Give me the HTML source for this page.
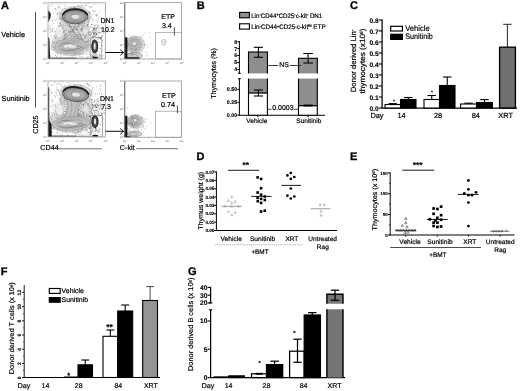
<!DOCTYPE html>
<html lang="en"><head><meta charset="utf-8"><title>Figure</title>
<style>html,body{margin:0;padding:0;background:#fff;}body{width:520px;height:391px;overflow:hidden;font-family:"Liberation Sans",sans-serif;}svg{display:block;}</style></head>
<body>
<svg width="520" height="391" viewBox="0 0 520 391" font-family="'Liberation Sans', sans-serif" shape-rendering="geometricPrecision" text-rendering="geometricPrecision">
<defs><filter id="b" x="0" y="0" width="520" height="391" filterUnits="userSpaceOnUse"><feGaussianBlur stdDeviation="0.3"/></filter><filter id="b2" x="-5%" y="-5%" width="110%" height="110%"><feGaussianBlur stdDeviation="0.3"/></filter></defs>
<rect x="0" y="0" width="520" height="391" fill="#fff"/>
<g filter="url(#b)">
<text x="1" y="9" font-size="11" text-anchor="start" font-weight="bold" fill="#000" stroke="#000" stroke-width="0.3">A</text>
<text x="196.8" y="9.3" font-size="11" text-anchor="start" font-weight="bold" fill="#000" stroke="#000" stroke-width="0.3">B</text>
<text x="350.1" y="9" font-size="11" text-anchor="start" font-weight="bold" fill="#000" stroke="#000" stroke-width="0.3">C</text>
<text x="196.6" y="160.4" font-size="11" text-anchor="start" font-weight="bold" fill="#000" stroke="#000" stroke-width="0.3">D</text>
<text x="350" y="160.4" font-size="11" text-anchor="start" font-weight="bold" fill="#000" stroke="#000" stroke-width="0.3">E</text>
<text x="0.7" y="274.5" font-size="11" text-anchor="start" font-weight="bold" fill="#000" stroke="#000" stroke-width="0.3">F</text>
<text x="187.9" y="274.7" font-size="11" text-anchor="start" font-weight="bold" fill="#000" stroke="#000" stroke-width="0.3">G</text>
<text x="1.3" y="36.7" font-size="7.35" text-anchor="start" fill="#000"  stroke="#000" stroke-width="0.2">Vehicle</text>
<text x="1.5" y="101.2" font-size="7.35" text-anchor="start" fill="#000"  stroke="#000" stroke-width="0.2">Sunitinib</text>
<line x1="35.5" y1="11.8" x2="35.5" y2="107.5" stroke="#222" stroke-width="0.8" />
<g filter="url(#b2)">
<path d="M58.88 11.64 C63.39 32.92 48.5 35.12 51.5 50.08 L89.75 52.12 C92 33.76 86.61 31.4 91.12 11.64 Z" fill="#dedede"/>
<ellipse cx="75" cy="16.2" rx="16.12" ry="10.26" fill="#d4d4d4" stroke="none" stroke-width="0" opacity="1"/>
<ellipse cx="71" cy="46" rx="19.5" ry="10.2" fill="#d4d4d4" stroke="none" stroke-width="0" opacity="1"/>
<path d="M69.86 40.56h0.6M70.33 26.64h0.6M59.42 28.35h0.6M91.06 39.09h0.6M89.9 36.14h0.6M79.95 35.07h0.6M81.68 40.35h0.6M60.04 24.06h0.6M78.56 31.17h0.6M81.9 21.13h0.6M78.61 38.59h0.6M82.46 52.11h0.6M64.22 19.49h0.6M68.5 30.16h0.6M83.63 36.13h0.6M66.9 15.83h0.6M65.76 52.51h0.6M61.31 36.07h0.6M80.44 6.85h0.6M74.58 53.95h0.6M72.19 18.18h0.6M81.54 30.9h0.6M51.13 45.89h0.6M84.2 47.88h0.6M96.16 38.05h0.6M75.68 10.06h0.6M83.37 21.64h0.6M66.81 10.64h0.6M58.83 23h0.6M51.24 35.98h0.6M96.2 41.69h0.6M79.37 19.55h0.6M56.48 48.41h0.6M90.91 34.6h0.6M77.64 39.26h0.6M98.53 42.38h0.6M81.87 41.17h0.6M49.52 53.54h0.6M88.63 40.87h0.6M70.98 49.12h0.6M82.38 29.42h0.6M78.86 42.89h0.6M75.7 51.25h0.6M63.58 24.96h0.6M89.97 32.4h0.6M60.18 47.89h0.6M96.54 24.45h0.6M52.44 29.68h0.6M71.52 26.93h0.6M95.6 14.65h0.6M93.37 10.58h0.6M61.63 42.59h0.6M91.32 46.42h0.6M79.18 34.35h0.6M76.19 41.64h0.6M71.1 36.62h0.6M82.71 31.96h0.6M85.67 41.48h0.6M67.2 25.67h0.6M73.63 47.51h0.6M68.61 38.45h0.6M56.41 36.06h0.6M80 35.97h0.6M67.15 42.98h0.6M78.2 23.15h0.6M65.24 30.27h0.6M70.33 30.89h0.6M89.46 12.26h0.6M72.8 48.01h0.6M87.1 57.06h0.6M68.55 42.45h0.6M90.7 7.56h0.6M84.42 6.81h0.6M76.56 52.07h0.6M71.52 35.17h0.6M86.18 34.33h0.6M72.46 57.78h0.6M90.08 27h0.6M88 27.47h0.6M75.88 43.82h0.6M77.27 42.71h0.6M50.16 6.52h0.6M83.36 15.72h0.6M57.92 7.18h0.6M93.46 44.52h0.6M96.66 16.15h0.6M73.85 12.74h0.6M60.03 58.23h0.6M89.14 28.95h0.6M72.34 21.79h0.6M80.02 38.85h0.6M97.05 14.76h0.6M91.44 57h0.6M96.34 28.91h0.6M62.3 49.11h0.6M75.62 34.04h0.6M95.9 27.51h0.6M78.74 21.65h0.6M73.68 45.97h0.6M75.05 54.29h0.6M72.88 49.47h0.6M63.42 46.77h0.6M54.74 31.73h0.6M70.85 31.47h0.6M64.66 35.88h0.6M101.59 32.69h0.6M82.06 48.8h0.6M70.76 10.73h0.6M65.22 50.03h0.6M89.44 45.3h0.6M73.95 45.51h0.6M76.4 12.09h0.6M49.59 21.18h0.6M88.13 22.42h0.6M59.85 18.96h0.6M50.09 29.97h0.6M55.55 38.08h0.6M85.06 27.31h0.6M78.34 24.22h0.6M85.92 44.54h0.6M84.16 37.45h0.6M94.5 43.06h0.6M87.72 54.01h0.6M69.23 24.04h0.6M59.45 43.56h0.6M103.07 29.92h0.6M82.53 47.15h0.6M59.79 30.45h0.6M78.37 45.85h0.6M73.29 28.66h0.6M58.08 25.9h0.6M87.65 33.66h0.6M60.61 17.77h0.6M83.46 40.05h0.6M99.93 39.15h0.6M72.78 40.75h0.6M78.87 20.12h0.6M52.1 20.72h0.6M78.34 35.04h0.6M67.65 15.54h0.6M55.32 9.29h0.6M100.23 48.61h0.6M102.05 45.59h0.6M60.31 36.34h0.6M72.92 40.75h0.6M62.55 29.86h0.6M80.94 38.29h0.6M83.72 35.47h0.6M68.81 45.24h0.6M74.59 18.03h0.6M64.13 31.94h0.6M72.13 34.59h0.6M73.82 34.91h0.6M71.75 10.75h0.6M80.36 49.7h0.6M80.57 28.76h0.6M80.75 15.68h0.6M59.41 44.41h0.6M67.91 8.88h0.6M62 40.72h0.6M81.53 34.92h0.6M96.83 43.85h0.6M73.5 42h0.6M99.47 48.31h0.6M89.7 13.71h0.6M71.53 44.24h0.6M69.24 49.95h0.6M83.07 47.25h0.6M93.05 28.32h0.6M68.51 46.67h0.6M89.03 32.06h0.6M55.74 35.11h0.6M79.4 50.98h0.6M85.96 32.36h0.6M87.06 41.04h0.6M77.02 32.88h0.6M70.06 43.51h0.6M57.49 21.36h0.6M73.91 7.29h0.6M63.25 41.52h0.6M82.61 31.03h0.6M70.23 8.08h0.6M102.16 40.64h0.6M90.78 17.09h0.6M85.93 47.7h0.6M64.08 8.32h0.6M74.32 36.15h0.6M83.66 43.77h0.6M97.12 51.56h0.6M53.5 23.43h0.6M57.4 13.81h0.6M72.57 32.04h0.6M81.43 5.22h0.6M54.65 31.56h0.6M70.74 26.7h0.6M72.85 19.15h0.6M84.7 37.92h0.6M72.47 20.63h0.6M58.62 32.58h0.6M50.52 35.31h0.6M76.12 8.74h0.6M69.95 26.66h0.6M80.96 42.26h0.6M73.27 17.61h0.6M71.59 30.85h0.6M85.21 36.91h0.6M62.63 9.13h0.6M68.05 19.48h0.6M56.6 30h0.6M66.22 33.72h0.6M81.94 24.99h0.6M90.9 34h0.6M62.18 36.11h0.6M78.83 53.51h0.6M85.71 47.91h0.6M81.73 29.32h0.6M81.72 13.79h0.6M92.14 14.81h0.6M70.37 32.28h0.6M91.85 32.39h0.6M61.31 36.3h0.6M82.85 43.91h0.6M99.66 32.26h0.6M77.99 24.73h0.6M95.75 20.07h0.6M84.28 23.87h0.6M63.07 44.05h0.6M94.5 31.78h0.6M63.33 45.62h0.6M73.06 37.18h0.6M97.43 51.01h0.6M73.88 45.19h0.6M63.8 31.2h0.6M95 11.48h0.6M50.5 4.64h0.6M92.05 24.21h0.6M72.89 26.68h0.6M71.95 13.62h0.6M74.2 7.72h0.6M72.72 37.15h0.6M81.08 28.04h0.6M59.82 34.64h0.6M66.32 58.32h0.6M85.73 30.01h0.6M66.53 20.11h0.6M59.3 26h0.6M78.4 40.63h0.6M62.91 32.17h0.6M65.75 34.8h0.6M76.22 38.82h0.6M70.13 38.12h0.6M74.65 44.94h0.6M73.8 14.57h0.6M57.64 42.52h0.6M63.76 42.64h0.6M85.39 37.11h0.6M81.7 30.19h0.6M51.99 31.44h0.6M80.87 23.03h0.6M72.29 44.57h0.6M60.22 42.73h0.6M102.7 22.61h0.6M76.1 29.41h0.6M97.7 37.28h0.6M87.74 20.32h0.6M73.58 31.78h0.6M85.37 29.74h0.6M80.78 38.12h0.6M50.6 28.38h0.6M96.96 22.26h0.6M57.98 9.05h0.6M54.91 37.6h0.6M100.06 39.18h0.6M65.78 20.59h0.6M82.02 41.19h0.6M58.1 12.24h0.6M78.34 36.12h0.6M53.58 28.54h0.6M65.42 39.7h0.6M72.02 30.5h0.6M68.35 49.7h0.6M95.38 25.77h0.6M86.94 19.19h0.6M74.95 44.58h0.6M97.3 25.5h0.6M72.68 35.26h0.6M50.61 32.22h0.6M63.36 38.21h0.6M74.42 36.34h0.6M65.32 46.92h0.6M69.6 21.75h0.6M81.23 5.53h0.6M63.33 31.6h0.6M86.99 29.21h0.6M78.61 20.91h0.6M63.85 32.24h0.6M76.52 49.2h0.6M83.22 45.35h0.6M77.01 36.22h0.6M88.23 38.16h0.6M99.61 11.09h0.6M86.42 25.68h0.6M73.74 27.66h0.6M66.09 17.83h0.6M64.06 42.72h0.6M74.4 33.06h0.6M71.14 47.35h0.6M81.49 29.56h0.6M84.13 29.39h0.6M55.96 56.46h0.6M81.04 15.82h0.6M90.55 37.76h0.6M79 46.96h0.6M76.9 29.43h0.6M49.84 48.31h0.6M74.3 27.12h0.6M79.27 33.26h0.6M84.3 25.7h0.6M67.27 43.33h0.6M94.55 25.82h0.6M68.78 44.31h0.6M99.84 32.62h0.6M92.84 19.98h0.6M77.05 30.64h0.6M75.61 50.98h0.6M64.92 40.33h0.6M57.48 40.32h0.6M82.69 27.27h0.6M82.06 5.85h0.6M85.61 5.93h0.6M63.04 22.58h0.6M67.61 46.41h0.6M75.1 25.25h0.6M73.93 38.11h0.6M93.04 36.46h0.6M73.22 38.98h0.6M88.8 43.22h0.6M69.61 14.2h0.6M75.43 49.36h0.6M56.94 14.64h0.6M69.8 24.59h0.6M80.82 20.13h0.6M60.16 25.31h0.6M73.06 20.75h0.6M74.02 44.59h0.6M61.69 24.88h0.6M62.6 31.39h0.6M81.93 9.06h0.6M81.02 31.5h0.6M86.34 35.47h0.6M81.19 39.39h0.6M94.04 28.18h0.6M87.37 25.04h0.6M85.11 18.24h0.6M80.74 29.28h0.6M56.09 18.64h0.6M76.83 47.77h0.6M80.43 40.78h0.6M73.18 54.72h0.6M67.77 22.69h0.6M87.59 33.02h0.6M69.51 22.24h0.6M69.85 42.45h0.6M79.31 11.57h0.6M80.44 34.96h0.6M58.33 44.97h0.6M69.48 26.3h0.6M86.16 54.2h0.6M63.16 39.33h0.6M66.18 52.08h0.6M63.8 45.61h0.6M67.1 40.38h0.6M72.39 20.69h0.6M64.88 34.39h0.6M93.37 33.93h0.6M52.27 3.38h0.6M92.16 44.42h0.6M61.19 46.43h0.6M81.53 42.86h0.6M87.78 44.3h0.6M76.45 40.24h0.6M68.73 32.55h0.6M87.56 24.48h0.6M91.61 18.68h0.6M77.97 23.06h0.6M76.28 20.31h0.6M49.08 50.36h0.6M78.53 22.54h0.6M76.94 48.63h0.6M58.68 30.09h0.6M82.19 40.81h0.6M93.09 37.48h0.6M74.03 27.26h0.6M77.91 24.78h0.6M57.95 19.49h0.6M64.58 21.63h0.6M55.87 42.67h0.6M53.53 43.06h0.6M58.1 37.89h0.6M95.13 35.37h0.6M62.5 32.76h0.6M64.41 34.69h0.6M66.56 33.29h0.6M85.21 44.86h0.6M87.87 41.86h0.6M69.37 31.64h0.6M69.63 26.67h0.6M68.67 31.54h0.6M58.74 31.54h0.6M81.82 29.18h0.6M81.87 26.85h0.6M87.03 38.21h0.6M74.18 22.05h0.6M83.72 23.77h0.6M77.29 23.36h0.6M76.96 44.66h0.6M60.25 31.39h0.6M83.39 34.4h0.6M87.11 57.71h0.6M88.12 45.66h0.6M64.24 19.93h0.6M87.6 16.59h0.6M63.19 19.67h0.6M77.42 19.32h0.6M94.13 30.63h0.6M56.99 54h0.6M64.79 35.68h0.6M73.63 26.65h0.6M78.87 20.28h0.6M54.2 19.17h0.6M73.47 32.88h0.6M82.45 33.97h0.6M61.53 20.01h0.6M81.34 40.87h0.6M71.95 29.01h0.6M88.34 32.21h0.6M85.26 41.76h0.6M77.13 53.95h0.6M64.95 25.9h0.6M61.31 18.52h0.6M74.18 41.52h0.6M92.05 45.55h0.6M92.51 10.67h0.6M63.92 39.57h0.6M96.07 33.7h0.6M60.53 25.98h0.6M63.59 17.49h0.6M97.1 21.41h0.6M92.19 37.61h0.6M64.35 38.86h0.6M98.96 42.44h0.6M93.38 33.6h0.6M81.83 28.56h0.6M80.45 53.85h0.6M51.65 30.89h0.6M77.55 22.33h0.6M69.06 45.2h0.6M104.85 42.55h0.6M78.88 5.81h0.6M103.7 33.24h0.6M73.31 13.11h0.6M72.95 13.48h0.6M74.93 39.8h0.6M74.31 36.66h0.6M60.63 56.03h0.6M70.92 19.08h0.6M58.18 25.97h0.6M78.34 12.04h0.6M71.7 55.98h0.6M84.41 29.39h0.6M75.81 29.93h0.6M73.09 44.28h0.6M73.5 16.96h0.6M83.92 21.67h0.6M57.61 13h0.6M50.85 42.35h0.6M61.81 25.77h0.6M78.95 54.8h0.6M103.91 49.34h0.6M76.06 35.05h0.6M101.76 56.01h0.6M69.02 39.66h0.6M78.28 32.83h0.6M66.08 9.6h0.6M65.55 5.94h0.6M92.8 40.99h0.6M55.14 55.46h0.6M102.37 45.59h0.6M82.05 39.07h0.6M76.96 34.83h0.6M90.15 6.77h0.6M54.58 8.46h0.6M65.19 21.75h0.6M79.52 36.44h0.6M74.32 20.55h0.6M66.98 47.99h0.6M85.66 33.65h0.6M68.83 58.11h0.6M64.62 42.87h0.6M91.71 27.48h0.6M86.62 13.15h0.6M89.52 35.31h0.6M49.24 43.23h0.6M60 53.54h0.6M63.31 29.17h0.6M78.22 26.35h0.6M77.85 22.63h0.6M84.24 32.04h0.6M91.83 32.48h0.6M81.07 49.98h0.6M57.05 58.01h0.6M71.56 43.4h0.6M68.15 13.15h0.6M90.83 47.22h0.6M97.67 46.38h0.6M64.95 3.94h0.6M63.75 20.58h0.6M61.2 41.76h0.6M78.91 27.4h0.6M76.5 29.49h0.6M77.13 44.62h0.6M88.7 20.39h0.6M50.48 55.99h0.6M75.6 50.57h0.6M74.25 7.67h0.6M65.83 44.15h0.6M60.45 8.34h0.6M81.9 47.79h0.6M76.82 10.02h0.6M85.95 45.3h0.6M82.41 23.74h0.6M78.54 45.27h0.6M78.92 40.05h0.6M74.04 46.93h0.6M64.74 30.56h0.6M69.1 41.57h0.6M98.56 27.72h0.6M86.08 41.84h0.6M101.27 28.91h0.6M72.09 14.05h0.6M81.16 54.6h0.6M82.08 39.07h0.6M70.72 34.8h0.6M51.74 49.62h0.6M67.48 13.34h0.6M62.18 18.06h0.6M87.09 49.77h0.6M52.79 47.55h0.6M87.59 22.19h0.6M50.79 19.39h0.6M64.01 37.72h0.6M77.45 6.1h0.6M87.86 11.62h0.6M63.09 17.56h0.6M65.42 53.81h0.6M87.03 42.08h0.6M78.78 5.88h0.6M65.76 22.65h0.6M58.68 40.52h0.6M62.34 19.99h0.6M83.06 54.37h0.6M76.54 15.5h0.6M92.68 36.95h0.6M88.2 56.85h0.6M91.29 24.51h0.6M90.14 45.01h0.6M50.01 25.12h0.6M51.76 30.11h0.6M82.79 13.96h0.6M79.67 56.73h0.6M53.32 49.81h0.6M70.57 36.48h0.6M71.44 48.77h0.6M89.91 33.41h0.6M52.77 44.43h0.6M66.55 42.54h0.6M91.46 24.35h0.6M65.5 39.25h0.6M92.28 53.12h0.6M81.87 9.71h0.6M54.29 36.12h0.6M60.48 51.11h0.6M85.77 3.79h0.6M61.15 34.75h0.6M66.18 29.35h0.6M81.12 18.31h0.6M81.06 21.23h0.6M65.39 40.99h0.6M64.94 36.79h0.6M98.62 32.4h0.6M71.57 44.33h0.6M68.16 50.19h0.6M53.95 42.37h0.6M65.89 18.49h0.6M101.26 17.63h0.6M101.06 43.04h0.6M96.35 15.49h0.6M92.41 56.49h0.6M72.03 29.77h0.6M67.28 21.34h0.6M80.74 37.51h0.6M68.75 39.92h0.6M96.45 15.04h0.6M52.83 13.46h0.6M81.56 56.43h0.6M48.8 26.62h0.6M62.4 27.47h0.6M74.67 41.13h0.6M68.46 32.2h0.6M65.36 33.88h0.6M55.66 33.02h0.6M103.51 33.29h0.6M54.3 36.28h0.6M58.76 4.13h0.6M62.42 44.36h0.6M79.78 30.31h0.6M59.47 13.78h0.6M94.75 36.07h0.6M56.02 30.65h0.6M77.09 29.29h0.6M69.52 8.82h0.6M62.11 46.19h0.6M77.88 49.41h0.6M56.43 41.98h0.6M79.81 19.52h0.6M81.23 16.82h0.6M61.49 31.63h0.6M58.33 7.31h0.6M67.24 44.8h0.6M67.56 53.27h0.6M55.86 9.84h0.6M97.87 38.67h0.6M88.48 18.02h0.6M86.3 36.32h0.6M83.88 32.37h0.6M92.53 21.01h0.6M58.89 7.06h0.6M91.82 19.51h0.6M57.66 16.12h0.6M66.93 10.53h0.6M69.33 21.38h0.6M65.29 15.79h0.6M74.4 24.18h0.6M75.61 36.15h0.6M65.53 18.54h0.6M85.83 5.37h0.6M62.76 27h0.6M68.62 48.65h0.6M66.97 48.2h0.6M92.73 39.29h0.6" stroke="#222" stroke-width="0.6" stroke-opacity="0.8" fill="none"/>
<path d="M87.9 33.59h0.56M87.82 3.52h0.56M98.48 18.87h0.56M99.33 32.8h0.56M102.59 27.75h0.56M67.62 36.27h0.56M66.94 18.59h0.56M79.05 34.07h0.56M79.7 33.91h0.56M73.43 14.4h0.56M75.17 16.43h0.56M75.48 21.48h0.56M51.77 5.3h0.56M75.99 27.5h0.56M80.54 22.48h0.56M68.67 31.5h0.56M56.48 52.55h0.56M55.12 55.3h0.56M60.32 13.82h0.56M59.26 23.21h0.56M61.26 57.49h0.56M60.83 19.37h0.56M51.77 54.7h0.56M83.32 13.68h0.56M94.64 31.01h0.56M49.73 44.79h0.56M60.18 22.98h0.56M71.17 38.6h0.56M91.95 24h0.56M49.66 9.79h0.56M61.45 34.13h0.56M83.29 6.75h0.56M79.02 14.63h0.56M97.63 12.79h0.56M82.3 44.44h0.56M57.43 52.81h0.56M54.03 46.41h0.56M80.81 36.29h0.56M98.92 30.43h0.56M102.24 50.49h0.56M79.81 18.1h0.56M59.4 18.98h0.56M72.05 30.27h0.56M94.36 11.5h0.56M60.39 23.66h0.56M81.11 7.56h0.56M76.54 37.06h0.56M81.09 44.34h0.56M83.13 34.47h0.56M83.76 26.44h0.56M57.84 17.76h0.56M65.61 11.17h0.56M63.86 35.05h0.56M77.84 37.03h0.56M75.91 51.73h0.56M80.41 24.87h0.56M88.76 35.14h0.56M68.12 13.86h0.56M92.72 43.05h0.56M76.18 42.38h0.56M62.84 32.42h0.56M77.62 43.28h0.56M75.09 27.61h0.56M73.61 16.34h0.56M92.66 49.65h0.56M94.39 4.38h0.56M56.71 36.86h0.56M88.29 7.88h0.56M67.87 21.84h0.56M78.09 38.38h0.56M74.27 53.84h0.56M86.9 45.64h0.56M87.75 13.68h0.56M89.88 53.52h0.56M68.93 17.35h0.56M58.03 33.43h0.56M75.95 45.88h0.56M92.22 41.51h0.56M82.98 26.13h0.56M73.88 12.31h0.56M80.79 30.28h0.56M84.05 11.62h0.56M77.61 31.9h0.56M90.57 6.94h0.56M86.33 52.91h0.56M90.41 22.55h0.56M65.42 25.52h0.56M73.07 16.39h0.56M85.33 35.41h0.56M55.85 14.26h0.56M74.37 45.91h0.56M49.31 7.96h0.56M88.16 3.32h0.56M79.2 38.74h0.56M74.15 7.96h0.56M75.33 23.36h0.56M84.42 11.98h0.56M72.65 31h0.56M98.78 17.16h0.56M89.23 18.1h0.56M67.49 40.77h0.56M55.41 52.68h0.56M104.5 31.62h0.56M50.64 39.86h0.56M103.08 55.3h0.56M48.55 56.24h0.56M102.42 23.35h0.56M48.56 28.52h0.56M72.13 29.76h0.56M92.7 27.58h0.56M81.1 40.35h0.56M86.86 32.73h0.56M71.93 16.78h0.56M51.93 18.19h0.56M73.56 20.82h0.56M101.6 4.73h0.56M88 34.05h0.56M49.66 31.89h0.56M74.53 42.09h0.56M66.36 37.64h0.56M94.72 54.22h0.56M76.4 17.37h0.56M58.34 45.92h0.56M91.68 7.64h0.56M80.21 10.7h0.56M77.95 51.08h0.56M102.86 39.78h0.56M76.81 54.35h0.56M62.01 14.99h0.56M68.16 29.19h0.56M51.85 41.7h0.56M89.17 32.43h0.56M81.25 26.89h0.56M65.33 17.11h0.56M68.72 14.66h0.56M64.08 19.05h0.56M52.41 27.78h0.56M94.71 25.21h0.56M99.13 51.53h0.56M103.23 23.48h0.56M73.73 55.83h0.56M63.98 28.14h0.56M85.37 39.2h0.56M70.35 52.91h0.56M72.61 47.12h0.56M101.28 45.63h0.56M93.54 4.78h0.56M48.63 37.71h0.56M57.09 14.38h0.56M70.35 46.36h0.56M81.59 57.32h0.56M54.07 50.8h0.56M98.05 32.39h0.56M87.66 18.17h0.56M51.67 21.72h0.56M81.34 37.84h0.56M93.77 13.33h0.56M97.74 39.28h0.56M89.39 40.99h0.56M88.45 47.63h0.56M56.03 57.77h0.56M88.69 6.37h0.56M78.29 5.37h0.56M87 24.84h0.56M78.17 29.31h0.56M55.21 20.62h0.56M59.18 17.12h0.56M52.43 38.17h0.56M73.48 12.39h0.56M54.1 48.96h0.56M61.56 43.97h0.56M51.82 30.89h0.56M84.55 48.34h0.56M95.12 54.05h0.56M68.12 26.1h0.56M94.51 21.27h0.56M91.7 26.93h0.56M83.84 31.3h0.56M51.98 20.37h0.56M49.16 27.86h0.56M67.67 10.33h0.56M57.37 54.36h0.56M64.21 6.28h0.56M94.78 43.5h0.56M52.76 47.64h0.56M102.56 25.08h0.56M97.75 30.32h0.56M86.3 48.09h0.56M65.62 29.97h0.56M104.4 9.68h0.56M95.01 15.65h0.56M87.24 46.29h0.56M49.55 28.88h0.56M82.22 44.02h0.56M55.35 8.55h0.56M72.28 25.83h0.56M96.26 31.3h0.56M93.39 5.85h0.56M69.22 17.89h0.56M55.61 20.4h0.56" stroke="#333" stroke-width="0.56" stroke-opacity="0.6" fill="none"/>
<path d="M96.18 33.8h0.6M94.8 29.85h0.6M96.43 33.6h0.6M88.25 30.8h0.6M89.89 26.66h0.6M95.21 32.25h0.6M95.1 28.04h0.6M94 27.87h0.6M96.04 35.08h0.6M100.84 37.68h0.6M91.88 29.92h0.6M91.42 33.36h0.6M101.63 35.17h0.6M87 26.32h0.6M90.18 34.3h0.6M94.7 33.33h0.6M100.94 28.26h0.6M91.73 40.83h0.6M95.9 28.47h0.6M87.6 25.12h0.6M86.14 32.29h0.6M94.85 36.45h0.6M94.21 28.86h0.6M92.11 40.54h0.6M88.52 32.76h0.6M94.79 34.76h0.6M93.28 34.23h0.6M97.55 31.32h0.6M93.1 31.14h0.6M91.32 31.05h0.6M93.64 32.93h0.6M99.38 37.86h0.6M93.14 34.69h0.6M95.73 35.41h0.6M94.78 33.18h0.6M93.06 28.45h0.6M97.75 37.82h0.6M97.02 33.94h0.6M95.63 29.95h0.6M88.46 34.97h0.6M95.4 29.49h0.6M91.32 37.73h0.6M88.39 39.91h0.6M96.94 42.65h0.6M92.19 31.88h0.6M92.93 32.68h0.6M93.97 28.61h0.6M98.46 28.45h0.6M92.92 34.48h0.6M92.82 30.02h0.6M95.95 30.32h0.6M90.34 31.52h0.6M93.93 39.65h0.6M90.86 36.34h0.6M91.95 30.38h0.6M93.56 33.2h0.6M97.72 39.85h0.6M92.47 37.96h0.6M98.18 35.64h0.6M92.04 36.03h0.6M94.32 33.57h0.6M93.76 34.97h0.6M98.6 37.07h0.6M93.98 36.46h0.6M99.78 27.77h0.6M99.85 25.97h0.6M96.6 34.65h0.6M99.89 33.23h0.6M93.02 28.39h0.6M90.32 35.43h0.6M93.87 28.75h0.6M96.56 28.54h0.6M93.17 29.92h0.6M100.49 38.56h0.6M94.15 24.91h0.6M95.67 32.3h0.6M95.92 34.52h0.6M93.58 36.14h0.6M97.63 32.93h0.6M93.28 29.82h0.6M97.12 27.03h0.6M94.14 28.61h0.6M89.82 34.7h0.6M94.61 32.14h0.6M97.76 25.26h0.6M94.47 33.28h0.6M97.61 27.1h0.6M97.21 32.97h0.6M99.45 37.1h0.6M96.62 41.65h0.6" stroke="#222" stroke-width="0.6" stroke-opacity="0.8" fill="none"/>
<path d="M62.83 18.48 Q72.4 31.1 81.05 43.28" fill="none" stroke="#8a8a8a" stroke-width="0.45"/>
<path d="M84.77 18.48 Q72.4 31.1 58.55 43.28" fill="none" stroke="#8a8a8a" stroke-width="0.45"/>
<path d="M64.03 18.48 Q73 31.1 82.25 43.28" fill="none" stroke="#8a8a8a" stroke-width="0.45"/>
<path d="M85.97 18.48 Q73 31.1 59.75 43.28" fill="none" stroke="#8a8a8a" stroke-width="0.45"/>
<path d="M65.23 18.48 Q73.6 31.1 83.45 43.28" fill="none" stroke="#8a8a8a" stroke-width="0.45"/>
<path d="M87.17 18.48 Q73.6 31.1 60.95 43.28" fill="none" stroke="#8a8a8a" stroke-width="0.45"/>
<ellipse cx="59.45" cy="32.1" rx="3.87" ry="5.96" fill="#f0f0f0" stroke="#aaa" stroke-width="0.35" opacity="0.85"/>
<ellipse cx="85.25" cy="31.6" rx="3.1" ry="3.58" fill="#ececec" stroke="#aaa" stroke-width="0.35" opacity="0.8"/>
<g transform="rotate(0 75 16.2)">
<ellipse cx="75" cy="16.2" rx="12.9" ry="7.6" fill="#a2a2a2" stroke="#555" stroke-width="0.9" opacity="1"/>
<ellipse cx="75" cy="16.6" rx="9.29" ry="5.17" fill="#bcbcbc" stroke="none" stroke-width="0" opacity="1"/>
<ellipse cx="75" cy="16.7" rx="11.09" ry="6.23" fill="none" stroke="#6a6a6a" stroke-width="0.5" opacity="1"/>
<ellipse cx="75" cy="16.7" rx="8.88" ry="4.99" fill="none" stroke="#6a6a6a" stroke-width="0.5" opacity="1"/>
<ellipse cx="75" cy="16.7" rx="6.66" ry="3.74" fill="none" stroke="#6a6a6a" stroke-width="0.5" opacity="1"/>
<ellipse cx="75" cy="16.7" rx="4.44" ry="2.49" fill="none" stroke="#6a6a6a" stroke-width="0.5" opacity="1"/>
<ellipse cx="75.5" cy="16.8" rx="3.87" ry="2.13" fill="#e4e4e4" stroke="none" stroke-width="0" opacity="1"/>
<path d="M62.75 14.68 A12.9 7.6 0 0 1 87.25 14.68" fill="none" stroke="#1a1a1a" stroke-width="1.7" stroke-linecap="round"/>
</g>
<ellipse cx="71" cy="46" rx="16.2" ry="7.48" fill="#c3c3c3" stroke="#8a8a8a" stroke-width="0.5" opacity="1" transform="rotate(-4 71 46)"/>
<ellipse cx="71.36" cy="45.94" rx="13.5" ry="5.78" fill="none" stroke="#8c8c8c" stroke-width="0.45" opacity="1" transform="rotate(-4 71.36 45.94)"/>
<ellipse cx="71.34" cy="46.15" rx="10.57" ry="4.53" fill="none" stroke="#8c8c8c" stroke-width="0.45" opacity="1" transform="rotate(-4 71.34 46.15)"/>
<ellipse cx="71.19" cy="46.26" rx="7.65" ry="3.28" fill="none" stroke="#8c8c8c" stroke-width="0.45" opacity="1" transform="rotate(-4 71.19 46.26)"/>
<ellipse cx="71.1" cy="45.96" rx="4.72" ry="2.02" fill="none" stroke="#8c8c8c" stroke-width="0.45" opacity="1" transform="rotate(-4 71.1 45.96)"/>
<ellipse cx="72" cy="45.7" rx="5.1" ry="2.04" fill="#e9e9e9" stroke="none" stroke-width="0" opacity="1"/>
<ellipse cx="65.75" cy="46.4" rx="1.8" ry="1.36" fill="#e9e9e9" stroke="none" stroke-width="0" opacity="1"/>
<path d="M59 46.5 q4.5 -5.1 10.5 -3.06 t10.5 3.4 t3.75 1.36" fill="none" stroke="#5f5f5f" stroke-width="0.5"/>
<path d="M60.5 49.06 q6 3.4 12 1.02 t9 -0.68" fill="none" stroke="#666" stroke-width="0.5"/>
<ellipse cx="94.7" cy="46.5" rx="2.9" ry="6.6" fill="#4a4a4a" stroke="#111" stroke-width="0.9" opacity="1"/>
<ellipse cx="94.7" cy="46.3" rx="1.04" ry="3.43" fill="#e4e4e4" stroke="none" stroke-width="0" opacity="1"/>
<ellipse cx="95" cy="57.9" rx="2.9" ry="1.2" fill="#111" stroke="none" stroke-width="0" opacity="1"/>
<path d="M99.78 56.78h0.6M90.95 56.78h0.6M96.34 55.28h0.6M94.78 55.14h0.6M92.86 52.28h0.6M94.39 58.25h0.6M99.57 55.2h0.6M92.16 55.33h0.6M97.75 56.43h0.6M92.72 56.45h0.6M94 56.75h0.6M93.32 52.87h0.6M94.9 57.22h0.6M90.94 55.53h0.6M97.68 55.01h0.6M97.51 57.74h0.6M89.08 54.73h0.6M97.21 58.33h0.6M91.55 54.45h0.6M95.37 51.99h0.6M96.86 56.83h0.6M93.19 56.79h0.6M97.33 56.34h0.6M93.09 56.05h0.6M92.93 57.75h0.6M93.32 56.66h0.6M95.16 55.87h0.6M100.49 55.58h0.6M99.48 57.34h0.6M99.15 55.42h0.6M97.83 57.2h0.6M92.63 56.26h0.6M94.27 55.67h0.6M99.08 54.35h0.6M89.04 52.37h0.6M93.18 54.49h0.6M94.75 56.83h0.6M100.62 56.34h0.6M96.26 54.32h0.6M96.65 58.36h0.6" stroke="#222" stroke-width="0.6" stroke-opacity="0.8" fill="none"/>
<path d="M48 10.05 q5.5 5.05 0.5 11.23 L48 21.84Z" fill="#1a1a1a"/>
<path d="M48 36.44 L49.4 38.69 L50.2 58.9 L48 58.9Z" fill="#1a1a1a"/>
<line x1="50" y1="58.2" x2="76.7" y2="58.2" stroke="#222" stroke-width="1.1" />
<line x1="76.7" y1="58.3" x2="91.05" y2="58.3" stroke="#666" stroke-width="0.9" />
</g>
<rect x="90.8" y="37.8" width="11" height="21.1" fill="none" stroke="#777" stroke-width="0.6" />
<rect x="48" y="2.75" width="57.4" height="56.15" fill="none" stroke="#a8a8a8" stroke-width="0.9" />
<text x="43.1" y="59.9" font-size="2.7" text-anchor="start" fill="#555" >10<tspan dy="-0.45em" font-size="70%">0</tspan><tspan dy="0.315em">&#8203;</tspan></text>
<text x="46" y="64.1" font-size="2.7" text-anchor="start" fill="#555" >10<tspan dy="-0.45em" font-size="70%">0</tspan><tspan dy="0.315em">&#8203;</tspan></text>
<text x="43.1" y="45.86" font-size="2.7" text-anchor="start" fill="#555" >10<tspan dy="-0.45em" font-size="70%">1</tspan><tspan dy="0.315em">&#8203;</tspan></text>
<text x="60.35" y="64.1" font-size="2.7" text-anchor="start" fill="#555" >10<tspan dy="-0.45em" font-size="70%">1</tspan><tspan dy="0.315em">&#8203;</tspan></text>
<text x="43.1" y="31.82" font-size="2.7" text-anchor="start" fill="#555" >10<tspan dy="-0.45em" font-size="70%">2</tspan><tspan dy="0.315em">&#8203;</tspan></text>
<text x="74.7" y="64.1" font-size="2.7" text-anchor="start" fill="#555" >10<tspan dy="-0.45em" font-size="70%">2</tspan><tspan dy="0.315em">&#8203;</tspan></text>
<text x="43.1" y="17.79" font-size="2.7" text-anchor="start" fill="#555" >10<tspan dy="-0.45em" font-size="70%">3</tspan><tspan dy="0.315em">&#8203;</tspan></text>
<text x="89.05" y="64.1" font-size="2.7" text-anchor="start" fill="#555" >10<tspan dy="-0.45em" font-size="70%">3</tspan><tspan dy="0.315em">&#8203;</tspan></text>
<text x="43.1" y="3.75" font-size="2.7" text-anchor="start" fill="#555" >10<tspan dy="-0.45em" font-size="70%">4</tspan><tspan dy="0.315em">&#8203;</tspan></text>
<text x="103.4" y="64.1" font-size="2.7" text-anchor="start" fill="#555" >10<tspan dy="-0.45em" font-size="70%">4</tspan><tspan dy="0.315em">&#8203;</tspan></text>
<g filter="url(#b2)">
<ellipse cx="135.3" cy="44.8" rx="9.5" ry="8.8" fill="#e2e2e2" stroke="#9a9a9a" stroke-width="0.4" opacity="1"/>
<ellipse cx="134.16" cy="44.5" rx="8.17" ry="7.92" fill="#cfcfcf" stroke="#8a8a8a" stroke-width="0.45" opacity="1"/>
<ellipse cx="133.98" cy="44.38" rx="6.65" ry="6.16" fill="none" stroke="#858585" stroke-width="0.45" opacity="1"/>
<ellipse cx="133.9" cy="44.18" rx="5.32" ry="4.93" fill="none" stroke="#858585" stroke-width="0.45" opacity="1"/>
<ellipse cx="133.81" cy="43.99" rx="3.99" ry="3.7" fill="none" stroke="#858585" stroke-width="0.45" opacity="1"/>
<ellipse cx="133.74" cy="43.82" rx="2.85" ry="2.64" fill="none" stroke="#858585" stroke-width="0.45" opacity="1"/>
<ellipse cx="134.9" cy="43.6" rx="1.9" ry="1.76" fill="#fff" stroke="#777" stroke-width="0.3" opacity="1"/>
<ellipse cx="134.3" cy="55.6" rx="8.07" ry="2.8" fill="#d4d4d4" stroke="#555" stroke-width="0.45" opacity="1"/>
<ellipse cx="133.3" cy="56" rx="4.75" ry="1.6" fill="none" stroke="#555" stroke-width="0.4" opacity="1"/>
<path d="M145.13 33.53h0.6M141.83 57.55h0.6M141.36 36.65h0.6M133.05 50.79h0.6M138.34 41.3h0.6M128.78 53.35h0.6M125.53 56.52h0.6M135.45 48.84h0.6M125.54 42.76h0.6M140.34 36.83h0.6M150.45 37.29h0.6M126.36 47.09h0.6M138.82 51.77h0.6M132.59 45.4h0.6M133.57 42.91h0.6M137.13 47.87h0.6M130.71 48.5h0.6M135.2 46.28h0.6M143.37 35.15h0.6M137.14 39.59h0.6M132.98 56.94h0.6M127.39 46.12h0.6M130.98 53.22h0.6M128.15 35.42h0.6M139.05 44.41h0.6M132.97 54.11h0.6M128.82 44.27h0.6M136.38 49.6h0.6M131.53 53.8h0.6M151.66 44.04h0.6M148.95 32.54h0.6M145.57 44.47h0.6M136.3 44.5h0.6M130.66 38.16h0.6M132.42 55.56h0.6M143.62 44.45h0.6M131.45 42.05h0.6M140.14 47.59h0.6M131.71 39.89h0.6M144.91 52.08h0.6M128.35 53.49h0.6M127.22 51.14h0.6M128.29 44h0.6M138.91 49.72h0.6M142.68 41.14h0.6M146.82 55.89h0.6M135.23 49.94h0.6M129.62 45.77h0.6M125.66 47.4h0.6M136.75 55.88h0.6M142.21 52.31h0.6M132.66 45.28h0.6M132.81 48.3h0.6M135.46 43.33h0.6M147.43 46.14h0.6M146.77 54.73h0.6M131.67 49.51h0.6M144.77 44.55h0.6M135.94 43.03h0.6M135.73 44.41h0.6" stroke="#222" stroke-width="0.6" stroke-opacity="0.7" fill="none"/>
<rect x="124.75" y="37.32" width="2.6" height="21.68" fill="#0a0a0a" stroke="none" stroke-width="0" />
<rect x="124.75" y="57.4" width="14.72" height="1.6" fill="#0a0a0a" stroke="none" stroke-width="0" />
<ellipse cx="163.75" cy="42.25" rx="2.1" ry="2.9" fill="none" stroke="#777" stroke-width="0.5" opacity="1"/>
<ellipse cx="163.75" cy="42.25" rx="0.7" ry="0.9" fill="none" stroke="#999" stroke-width="0.4" opacity="1"/>
</g>
<rect x="155.4" y="32.5" width="26.1" height="26.5" fill="none" stroke="#8c8c8c" stroke-width="0.6" />
<rect x="124.75" y="2.6" width="56.75" height="56.4" fill="none" stroke="#989898" stroke-width="0.8" />
<line x1="124.75" y1="2.6" x2="124.75" y2="59" stroke="#555" stroke-width="0.8" />
<text x="119.85" y="60" font-size="2.7" text-anchor="start" fill="#555" >10<tspan dy="-0.45em" font-size="70%">0</tspan><tspan dy="0.315em">&#8203;</tspan></text>
<text x="122.75" y="64.2" font-size="2.7" text-anchor="start" fill="#555" >10<tspan dy="-0.45em" font-size="70%">0</tspan><tspan dy="0.315em">&#8203;</tspan></text>
<text x="119.85" y="45.9" font-size="2.7" text-anchor="start" fill="#555" >10<tspan dy="-0.45em" font-size="70%">1</tspan><tspan dy="0.315em">&#8203;</tspan></text>
<text x="136.94" y="64.2" font-size="2.7" text-anchor="start" fill="#555" >10<tspan dy="-0.45em" font-size="70%">1</tspan><tspan dy="0.315em">&#8203;</tspan></text>
<text x="119.85" y="31.8" font-size="2.7" text-anchor="start" fill="#555" >10<tspan dy="-0.45em" font-size="70%">2</tspan><tspan dy="0.315em">&#8203;</tspan></text>
<text x="151.12" y="64.2" font-size="2.7" text-anchor="start" fill="#555" >10<tspan dy="-0.45em" font-size="70%">2</tspan><tspan dy="0.315em">&#8203;</tspan></text>
<text x="119.85" y="17.7" font-size="2.7" text-anchor="start" fill="#555" >10<tspan dy="-0.45em" font-size="70%">3</tspan><tspan dy="0.315em">&#8203;</tspan></text>
<text x="165.31" y="64.2" font-size="2.7" text-anchor="start" fill="#555" >10<tspan dy="-0.45em" font-size="70%">3</tspan><tspan dy="0.315em">&#8203;</tspan></text>
<text x="119.85" y="3.6" font-size="2.7" text-anchor="start" fill="#555" >10<tspan dy="-0.45em" font-size="70%">4</tspan><tspan dy="0.315em">&#8203;</tspan></text>
<text x="179.5" y="64.2" font-size="2.7" text-anchor="start" fill="#555" >10<tspan dy="-0.45em" font-size="70%">4</tspan><tspan dy="0.315em">&#8203;</tspan></text>
<g filter="url(#b2)">
<path d="M59.2 89.5 C63.82 110.5 44.95 113.06 48.45 127.14 L93.08 129.06 C95.7 111.78 87.58 109 92.2 89.5 Z" fill="#dedede"/>
<ellipse cx="75.7" cy="94" rx="16.5" ry="10.12" fill="#d4d4d4" stroke="none" stroke-width="0" opacity="1"/>
<ellipse cx="71.2" cy="123.3" rx="22.75" ry="9.6" fill="#d4d4d4" stroke="none" stroke-width="0" opacity="1"/>
<path d="M75.06 126.2h0.6M94.55 112.21h0.6M76.83 123.85h0.6M69.51 93.03h0.6M90.35 95.02h0.6M87.67 94.54h0.6M101.06 93.26h0.6M86.46 134.21h0.6M59.53 133.98h0.6M61.58 81.66h0.6M84.57 121.36h0.6M73.01 105.14h0.6M68.19 105.4h0.6M100.61 134.97h0.6M68.45 98.61h0.6M79.73 127.16h0.6M84.59 91.25h0.6M76.24 112.33h0.6M95.23 129.33h0.6M81.62 129.65h0.6M67.95 134.83h0.6M67.49 116.44h0.6M87.49 95.36h0.6M63.38 81.77h0.6M76.28 109.18h0.6M68.97 118.09h0.6M75.13 105.79h0.6M67.2 94.94h0.6M64.84 111.56h0.6M82.55 96.21h0.6M88.7 93.57h0.6M86.14 116.95h0.6M69.91 107.4h0.6M80.92 123.96h0.6M53.91 114.49h0.6M62.8 120.22h0.6M94.21 110.9h0.6M72.24 113.02h0.6M82.18 112.72h0.6M67.94 98.3h0.6M71.16 129.6h0.6M72.31 131.76h0.6M77.91 109.85h0.6M49.13 99.36h0.6M92.42 89.27h0.6M59.09 92.41h0.6M65.62 120.42h0.6M95.55 100.53h0.6M72.62 90.11h0.6M64.32 98.37h0.6M58.81 104.7h0.6M86.88 115.71h0.6M59.1 111.93h0.6M74.3 122.33h0.6M68.94 117.42h0.6M57.72 115.35h0.6M61.88 104.11h0.6M76.63 115.49h0.6M69.6 123.73h0.6M70.96 89.07h0.6M86.89 104.21h0.6M91.88 99.53h0.6M82.35 115.14h0.6M57.18 132.71h0.6M90.08 118.04h0.6M83.86 102.09h0.6M73.67 113.69h0.6M80.09 121.45h0.6M70.76 98.78h0.6M65.46 116.68h0.6M49.12 89.88h0.6M67.7 101.17h0.6M68.76 106.03h0.6M69.28 117.71h0.6M81.11 129.33h0.6M89.54 93.17h0.6M83.3 104.67h0.6M61.87 134.78h0.6M64.46 96.3h0.6M67.76 96.33h0.6M88.83 116.19h0.6M94.69 116.7h0.6M64.66 126.96h0.6M64.07 102.61h0.6M71.33 110.7h0.6M91.64 100.29h0.6M79.08 109.62h0.6M55.07 92.4h0.6M70.55 116.6h0.6M78.61 117.8h0.6M74.55 102.83h0.6M80.2 93.88h0.6M53.78 104.69h0.6M52.49 101.75h0.6M62.67 101.11h0.6M73.16 97.14h0.6M67.52 82.43h0.6M76 95.83h0.6M61.85 114h0.6M75.24 111.73h0.6M51.47 113.78h0.6M76.05 94.34h0.6M84.96 109.27h0.6M74.11 102.79h0.6M82.02 111.64h0.6M90.83 117.38h0.6M64.6 106.45h0.6M87.57 104.15h0.6M79.56 118.52h0.6M75.8 113.53h0.6M75.86 97.76h0.6M91.94 107.88h0.6M64.49 98.44h0.6M79.2 92.38h0.6M93.47 127.16h0.6M94.29 119.72h0.6M48.57 129.44h0.6M92.4 118.02h0.6M94.31 102.08h0.6M75.74 122.68h0.6M72.55 127.9h0.6M75.05 121.29h0.6M75.11 86.05h0.6M78.02 131.36h0.6M82.16 100.39h0.6M71 124.81h0.6M86.21 131.66h0.6M59.91 99.47h0.6M56.6 132.5h0.6M80.26 102.01h0.6M72.81 113.63h0.6M88.59 132.29h0.6M81.54 115.93h0.6M71.07 103.42h0.6M77.81 109.51h0.6M72.23 105.74h0.6M62.58 109.7h0.6M67.22 113.41h0.6M86.85 123.38h0.6M84.61 123.43h0.6M84 133.07h0.6M89.01 132.07h0.6M66.26 110.03h0.6M62.84 125.69h0.6M86.37 102.46h0.6M92.49 91.85h0.6M72.44 120.43h0.6M73.29 116.38h0.6M91.63 115.43h0.6M57.27 121.74h0.6M72.36 111.93h0.6M65.28 87.48h0.6M55.02 104.3h0.6M91.16 91.1h0.6M62.89 118.75h0.6M62.23 120.85h0.6M66.56 115.06h0.6M75.42 110.05h0.6M73.21 133.1h0.6M65.6 118.76h0.6M76.28 117.97h0.6M88.8 85.59h0.6M77.98 107.16h0.6M69.12 96.12h0.6M61.96 93.25h0.6M99.49 110.23h0.6M85.04 94.12h0.6M75.96 133.59h0.6M73.19 93.72h0.6M70.18 93.77h0.6M52.77 106.27h0.6M67.79 96.8h0.6M60.45 94.87h0.6M77.4 132.84h0.6M49.4 114.55h0.6M56.36 107.43h0.6M75.37 119.2h0.6M90.89 101h0.6M55.07 106.99h0.6M78.27 98.65h0.6M52.35 115.99h0.6M76.94 106.39h0.6M52.33 131.57h0.6M77.11 102.24h0.6M80.53 120.57h0.6M85.45 119.55h0.6M80 90.84h0.6M67.47 112.17h0.6M68.1 92.83h0.6M74.32 100.53h0.6M67.54 95.55h0.6M62.51 108.47h0.6M64.11 121.16h0.6M71.68 112.23h0.6M79.95 130.84h0.6M82.91 113.8h0.6M71.36 96.9h0.6M68.66 121.22h0.6M77.25 103.73h0.6M53.71 85.02h0.6M78.69 126.85h0.6M79.48 87.62h0.6M70.62 113.7h0.6M59.96 115.74h0.6M70.81 96.43h0.6M55.07 123.32h0.6M79.22 95.56h0.6M58.51 124.61h0.6M82.83 105.09h0.6M97.89 105.34h0.6M57.88 127.91h0.6M70.99 115.71h0.6M74.4 93.7h0.6M55.91 106.89h0.6M95.05 93.68h0.6M94.34 113.67h0.6M57.04 114.42h0.6M82.39 95.38h0.6M57.08 117.26h0.6M61.62 85.9h0.6M70.19 112.86h0.6M65.43 90.8h0.6M77.03 81.53h0.6M81.9 118.07h0.6M99.12 124.48h0.6M79.18 114.37h0.6M74.25 88.45h0.6M95.87 118.66h0.6M69.52 91.38h0.6M96.19 118.74h0.6M55.97 121.02h0.6M102.38 109.7h0.6M79.86 103.29h0.6M64.36 127.56h0.6M71.96 122.99h0.6M69.24 121.94h0.6M86.31 93.51h0.6M57.69 108.86h0.6M86.36 114.58h0.6M92.51 87.65h0.6M81.25 99.93h0.6M75.34 115.31h0.6M59.23 106.34h0.6M56.32 114.4h0.6M61.04 102.03h0.6M77.12 99.44h0.6M91.1 99.7h0.6M86.6 114.67h0.6M58.28 106.52h0.6M61.25 104.19h0.6M67.53 135.58h0.6M80.55 88.82h0.6M89.28 116.41h0.6M70.68 105.99h0.6M77.72 105.14h0.6M65.8 104.06h0.6M91.4 99.99h0.6M79.53 91.36h0.6M63.13 87.75h0.6M70.86 121.16h0.6M78.41 102.07h0.6M83.01 104.43h0.6M79.42 114.51h0.6M54.29 122.63h0.6M70.31 101.12h0.6M96.24 119.08h0.6M102.3 118.34h0.6M70.78 121.82h0.6M62.02 102.82h0.6M65.51 106.47h0.6M85.51 102.26h0.6M78.66 101.98h0.6M70.72 112.8h0.6M57.67 126.5h0.6M77.07 130.84h0.6M88.24 120.46h0.6M71.59 92.46h0.6M70.53 102.61h0.6M77.58 102.53h0.6M91.42 102.45h0.6M70.2 125.07h0.6M73.87 90.42h0.6M80.02 106.91h0.6M58.03 98.01h0.6M81.05 114.92h0.6M80.11 100.13h0.6M77.37 108.1h0.6M71.08 105.59h0.6M65.38 125.95h0.6M72.08 116.14h0.6M67.35 107.34h0.6M59.61 99.52h0.6M92.01 114.3h0.6M92.15 123.95h0.6M87.58 126.31h0.6M64.78 123.04h0.6M69.02 101.49h0.6M86.24 96.37h0.6M77.91 116.07h0.6M79.44 104.3h0.6M54.63 110.57h0.6M86.7 122.75h0.6M83.7 127.88h0.6M59.02 109.38h0.6M78.91 126.21h0.6M76.16 118.44h0.6M52.42 99.1h0.6M80.74 120.87h0.6M89.03 113.3h0.6M61.04 108.49h0.6M78.86 105.6h0.6M63.87 104.27h0.6M51.42 93.52h0.6M72.48 104.24h0.6M74.39 132.74h0.6M78.3 109.55h0.6M56.32 92.66h0.6M79.43 95.97h0.6M80.24 92.74h0.6M75.83 108.89h0.6M88.69 103.74h0.6M68.28 114.04h0.6M69.99 101.41h0.6M69.07 117.72h0.6M77.32 121.26h0.6M101.27 109.56h0.6M55.8 112.57h0.6M74.03 86.21h0.6M80.66 132.37h0.6M89.24 85.76h0.6M94.43 124.69h0.6M68.45 118.17h0.6M96.46 104.72h0.6M73.6 101.04h0.6M95 94.45h0.6M87.65 83.84h0.6M59.86 100.42h0.6M86.18 83.91h0.6M82.82 99.81h0.6M92.35 105.05h0.6M81.08 107.3h0.6M100.57 104.26h0.6M74.99 121.14h0.6M62.84 113.29h0.6M64.19 85.82h0.6M52.71 128.49h0.6M80.19 85.6h0.6M100.88 98.84h0.6M68.33 114.05h0.6M56.87 83.97h0.6M62.71 129.13h0.6M88.02 84.58h0.6M91.78 110.62h0.6M81.29 110.9h0.6M80 93.93h0.6M60.27 98.72h0.6M68.34 120.06h0.6M55.69 135.79h0.6M64.4 100.57h0.6M84.32 117.07h0.6M68.77 92.8h0.6M58.91 84.28h0.6M90.88 127.55h0.6M101.69 118.12h0.6M78.79 122.29h0.6M88.02 105.89h0.6M48.57 87.38h0.6M59.46 122.23h0.6M91.55 104.6h0.6M83.85 109.29h0.6M78.3 101.34h0.6M73.42 109.99h0.6M73.76 125.7h0.6M89.67 122.67h0.6M85.9 94.73h0.6M91.87 94.69h0.6M93.09 120.84h0.6M59.1 128.9h0.6M63.66 98.06h0.6M50.77 106.57h0.6M89.02 99.22h0.6M101.38 121.22h0.6M65.8 90.5h0.6M49.37 119.09h0.6M93.23 92.94h0.6M73.83 105.58h0.6M70 118.17h0.6M86.52 127.66h0.6M69.58 107.66h0.6M53.79 127.5h0.6M65.9 99.49h0.6M74.83 96.2h0.6M58.26 105.25h0.6M96.04 106.75h0.6M81.7 86.36h0.6M67.88 85.19h0.6M72.25 119.89h0.6M77.71 95.16h0.6M85.74 125.63h0.6M80.45 103.12h0.6M73.14 99.84h0.6M71.88 115.21h0.6M69.34 125.82h0.6M78.96 123.39h0.6M83.47 106.22h0.6M66.66 126.32h0.6M83.18 118.27h0.6M61.81 120.3h0.6M85.72 107.07h0.6M56.3 87.97h0.6M70.31 118.91h0.6M74.61 91.18h0.6M52.29 101.05h0.6M74.04 96.61h0.6M61.26 107.53h0.6M65.61 100.58h0.6M74.43 105.24h0.6M83.11 90.85h0.6M72.7 122.53h0.6M91.52 119.06h0.6M74.38 84.83h0.6M49.81 125.94h0.6M83.99 119.31h0.6M57.98 90.88h0.6M76.22 93.47h0.6M97.59 99.96h0.6M65.4 124.11h0.6M78.76 95.45h0.6M55.4 106.03h0.6M83.25 121.42h0.6M88.48 117.04h0.6M63.78 90.92h0.6M57.19 122.53h0.6M87.29 130.42h0.6M74.3 90.31h0.6M100.46 88.67h0.6M54.93 82.35h0.6M90.24 129.29h0.6M67.72 87.95h0.6M72.92 116.25h0.6M50.81 91.16h0.6M72.28 121.56h0.6M74.95 117.41h0.6M78.54 95.07h0.6M71.96 103.9h0.6M81.09 97.44h0.6M95.66 110.58h0.6M81.83 120.37h0.6M89.52 116.68h0.6M101.98 117.81h0.6M82.32 117.72h0.6M64.12 98.96h0.6M64.04 129.05h0.6M80.77 90.66h0.6M100.23 115.61h0.6M91.91 113.59h0.6M68.86 112.85h0.6M56.8 90.44h0.6M60.34 101.44h0.6M53.23 108.37h0.6M101.81 109.25h0.6M87.28 106.46h0.6M79.77 109.51h0.6M65.61 111.31h0.6M51.32 117.31h0.6M69.42 92.23h0.6M68.35 119.2h0.6M63.48 117.9h0.6M82.52 135.77h0.6M57.26 108.24h0.6M81.63 134.83h0.6M77.83 122.51h0.6M51.45 100.43h0.6M99.18 105.37h0.6M69.59 83.73h0.6M83.54 114.44h0.6M104.66 112.8h0.6M70 86.78h0.6M72.57 125.72h0.6M85.15 130.38h0.6M87.05 109.3h0.6M83.08 112.92h0.6M79.56 92.66h0.6M79.73 114.84h0.6M89.09 134h0.6M97.28 94.35h0.6M78.98 115.88h0.6M56.82 102.32h0.6M76.82 122.43h0.6M90.31 107.88h0.6M72.15 93.66h0.6M75.49 112.08h0.6M78.44 131.75h0.6M72.31 111.63h0.6M86.99 84.29h0.6M69.34 111.2h0.6M88.52 96.76h0.6M86.19 116.46h0.6M50.96 85.45h0.6M51.8 112.39h0.6M77.01 122.11h0.6M86.46 100.88h0.6M90.29 123.71h0.6M81.09 118.05h0.6M54.03 116.09h0.6M57.93 90.21h0.6M68.45 112.39h0.6M73.01 104.56h0.6M58.43 113.18h0.6M62.41 86.6h0.6M75.27 134.3h0.6M67.59 92.37h0.6M69.3 106.55h0.6M75.89 126.66h0.6M56.84 89.5h0.6M80.51 111.84h0.6M101.44 105.56h0.6M78.59 111.32h0.6M78.22 134.65h0.6M93.86 99.93h0.6M84.41 103.71h0.6M75.53 112.71h0.6M74.15 102.22h0.6M97.87 105.64h0.6M83.5 127.22h0.6M95.28 128.26h0.6M100.38 86.2h0.6M104.09 110.53h0.6M52.28 109.71h0.6M50.81 93.24h0.6M78.4 112.69h0.6M61.5 106.15h0.6M72.3 111.32h0.6M73.72 106.37h0.6M87.42 83.19h0.6M66.19 112.3h0.6M67.63 100.82h0.6M67.07 113.57h0.6M93.1 106.96h0.6M69.69 116.03h0.6M77.98 103.75h0.6M64.97 120.6h0.6M74.51 100.61h0.6M74.05 108.1h0.6M80.61 113.81h0.6M66.42 88.87h0.6M56.87 107.74h0.6M56.04 122.73h0.6M99.04 93.44h0.6M73.03 105.98h0.6M51.17 119.47h0.6M73.61 124.25h0.6M65.87 122.17h0.6M87.71 120.24h0.6M96.25 107.14h0.6M97.75 98.32h0.6M74.04 96.64h0.6M73.86 127.36h0.6M84.96 111.66h0.6M100.2 85.32h0.6M61.21 135.39h0.6M79.11 90.21h0.6M96.73 129.25h0.6M65.35 131.76h0.6M60.91 125.5h0.6M82.8 107.94h0.6M51.8 105.38h0.6M82.88 116.25h0.6M85.82 111.18h0.6M81.26 126.17h0.6M64.66 86.37h0.6M73.18 82.03h0.6M73.94 123h0.6M97.23 114.52h0.6M76.88 122.64h0.6M95.53 104.71h0.6M54.8 96.79h0.6M54.32 95.16h0.6M71.96 115.82h0.6M76.25 111.24h0.6M68.3 117.17h0.6M87.55 122.81h0.6M97.04 105.2h0.6M76.95 116.99h0.6M68.62 126.32h0.6M67.59 93.17h0.6M72.89 102.65h0.6M86.75 103.73h0.6M75.74 106.43h0.6M79.1 99.5h0.6M90.95 86.19h0.6M67.86 98.19h0.6M83.87 110.74h0.6M81.34 104.53h0.6M62.7 91.29h0.6M68.65 101.09h0.6M78.17 116.02h0.6M88.97 108.28h0.6M62.23 92.27h0.6M74.78 116.12h0.6M104.02 113.12h0.6M57.58 130.37h0.6M91.45 132.63h0.6M73.68 126.08h0.6M66.37 108.89h0.6M70.49 126.09h0.6M74.85 98.18h0.6M77.59 121.14h0.6M62.79 120.71h0.6M62.79 95.36h0.6M77.24 106.12h0.6M58.6 82.74h0.6M74.19 114.15h0.6M66.71 113.21h0.6M50.16 116.65h0.6M80.28 114.73h0.6M64.33 111.4h0.6M75.84 128h0.6M78.11 114.32h0.6M62.62 124.52h0.6M92 101.79h0.6M83.73 115.23h0.6M73.11 88.51h0.6M78.52 103.76h0.6M91.57 102.98h0.6M74.44 120.31h0.6M80.9 101.36h0.6M84.38 116.63h0.6M89.14 101.51h0.6M73.12 103.52h0.6M60.86 114.34h0.6M80.16 133.83h0.6M68.79 116.55h0.6M91.51 108.16h0.6M74.81 112.31h0.6M63.16 93.54h0.6M91.1 112.96h0.6M72.68 89.29h0.6M75.65 129.69h0.6M56.05 95.16h0.6M90.96 133.98h0.6M97.81 100.83h0.6M83.1 97.52h0.6M81.87 103.97h0.6M76.86 132.47h0.6M79.05 106.05h0.6M74.69 114.51h0.6M65.92 113.52h0.6M83.08 136.09h0.6M54.75 124.67h0.6" stroke="#222" stroke-width="0.6" stroke-opacity="0.8" fill="none"/>
<path d="M79.47 134.27h0.56M65.1 98.17h0.56M84.46 95.97h0.56M102.06 108.89h0.56M66.47 129.52h0.56M98.69 112.06h0.56M75.45 133.52h0.56M87.74 121.57h0.56M84.08 118.73h0.56M82.65 103.94h0.56M78.07 122.42h0.56M55.06 96.38h0.56M94.21 104.22h0.56M98.66 100.8h0.56M80.12 111.51h0.56M72.03 126.85h0.56M51.99 122.16h0.56M61 86.92h0.56M89.46 120.13h0.56M60.05 84.06h0.56M91.3 105.52h0.56M63.56 102.9h0.56M70.42 92.89h0.56M78.55 130.23h0.56M58.27 91.17h0.56M102.73 110.48h0.56M68.01 97.68h0.56M79.31 132.55h0.56M91.8 104.97h0.56M90.22 99.4h0.56M74.7 87.93h0.56M88.03 120.35h0.56M80.65 126.11h0.56M88.8 111.64h0.56M56.76 121.95h0.56M103.49 122.82h0.56M104.86 98.56h0.56M63.53 114.29h0.56M72.4 109.43h0.56M70.6 97.11h0.56M56.26 84.24h0.56M71.16 125.27h0.56M90.23 81.65h0.56M63.75 101.08h0.56M73.91 91.33h0.56M78.73 109.88h0.56M93.29 109.35h0.56M81.22 108.6h0.56M89.49 106.57h0.56M62.44 132.31h0.56M66.52 129.97h0.56M59.1 111.24h0.56M85.75 112.12h0.56M81.95 117.3h0.56M51.48 84.68h0.56M73.91 88.68h0.56M61.88 109.69h0.56M103.25 96.58h0.56M89.29 113.04h0.56M68.71 88.31h0.56M73.29 93.15h0.56M102.01 125.52h0.56M77.89 118.78h0.56M61.37 84.26h0.56M86.41 120.12h0.56M67.17 103.66h0.56M65.34 96.57h0.56M75.41 132.38h0.56M80.15 127.18h0.56M54.23 82.57h0.56M82.27 127.48h0.56M67.38 94.13h0.56M85.74 122.33h0.56M82.14 90.44h0.56M82.87 112.72h0.56M63.6 107.85h0.56M61.9 112.48h0.56M96.65 127.1h0.56M55.1 106.12h0.56M70.78 82.11h0.56M78.43 98.49h0.56M97.25 118.38h0.56M59.27 110.71h0.56M68.73 95.14h0.56M65.83 132.1h0.56M59.41 126.51h0.56M68.76 101.8h0.56M75.57 115.02h0.56M94.43 127.09h0.56M62.51 96.08h0.56M79.9 85.17h0.56M96.42 120.42h0.56M94.65 114.78h0.56M78.09 96.98h0.56M83.59 114.26h0.56M91.26 132.57h0.56M83.67 97.15h0.56M58.07 118.08h0.56M88.94 120.61h0.56M87.97 106.98h0.56M61.66 97.72h0.56M75.49 97.23h0.56M67.52 123.27h0.56M75.86 134.1h0.56M89.7 108.2h0.56M89.04 93.36h0.56M68.65 121.04h0.56M96.28 86.78h0.56M96.21 103.04h0.56M74.5 130.18h0.56M61.59 123.73h0.56M68.69 116.43h0.56M49.08 125.88h0.56M83.47 93.18h0.56M64.18 90.78h0.56M83.27 98.83h0.56M56.53 104.02h0.56M85.77 90.36h0.56M85.8 100.51h0.56M52.51 101.66h0.56M81.38 128.83h0.56M76.74 119.24h0.56M74.25 113.49h0.56M81.45 93.58h0.56M84.46 112.54h0.56M75.85 94.1h0.56M54.08 114.3h0.56M97.13 93.46h0.56M66.97 104.25h0.56M50.47 105.96h0.56M68.77 95.78h0.56M62.55 125.12h0.56M67.57 113.18h0.56M81.91 88.57h0.56M81.85 94.05h0.56M56.16 117.83h0.56M82.51 127.04h0.56M87.87 134.9h0.56M80.8 95.29h0.56M101.26 93.81h0.56M78.02 113.64h0.56M64.81 104.37h0.56M49.03 122.93h0.56M75.64 126.89h0.56M52.53 121.84h0.56M66.79 110.9h0.56M97.63 109.68h0.56M78.13 126.07h0.56M62.52 107.5h0.56M83.42 105.62h0.56M100.01 100.64h0.56M84.17 113.34h0.56M92.68 128.28h0.56M77.17 123.83h0.56M89.19 128.44h0.56M62.32 96.1h0.56M85.17 122.31h0.56M89.65 116.41h0.56M65.77 133.22h0.56M87.34 132.32h0.56M61.69 111.6h0.56M65.95 102.12h0.56M81.06 116.57h0.56M59.07 120.87h0.56M57.63 118.39h0.56M68.36 88.18h0.56M74.36 107.83h0.56M56.94 133.93h0.56M97.11 98.06h0.56M59.09 116.69h0.56M90.1 125.84h0.56M54.51 102.02h0.56M81.39 119.04h0.56M96.7 112.26h0.56M50.05 112.29h0.56M60.09 131.26h0.56M56.27 111.86h0.56M52.82 128.91h0.56M80.7 92.02h0.56M61.08 125.05h0.56M58.8 104.6h0.56M91.6 110.95h0.56M86.67 121.78h0.56M93.51 115.15h0.56M62.94 114.85h0.56M69.05 115.45h0.56M103.52 82.15h0.56M84.27 110.75h0.56M80.12 112.25h0.56M87.09 117.57h0.56M55.75 117.86h0.56M76.35 125.22h0.56M72.8 95.61h0.56M82.33 120.57h0.56M103.01 118.9h0.56M74.17 103.65h0.56M54.33 97.73h0.56M99.57 88.39h0.56M64.72 128.13h0.56M102.04 94.32h0.56" stroke="#333" stroke-width="0.56" stroke-opacity="0.6" fill="none"/>
<path d="M96.36 110.58h0.6M91.02 113.01h0.6M101.3 108.63h0.6M95.94 103.13h0.6M101.26 108.68h0.6M90.53 111.84h0.6M89.89 105.31h0.6M87.54 114.59h0.6M102.74 105.54h0.6M92.71 105.8h0.6M93.02 110.89h0.6M100.1 103.87h0.6M96.54 100.29h0.6M100.33 108h0.6M92.55 115.29h0.6M94.63 114.56h0.6M98.76 115.86h0.6M92.2 108.66h0.6M96.29 107.53h0.6M100.33 105.19h0.6M98.51 114.53h0.6M88.16 104.04h0.6M91.84 105.94h0.6M96.37 107.62h0.6M95.28 106.33h0.6M94.71 110.58h0.6M97.61 104.88h0.6M94.6 104.97h0.6M94.38 101.94h0.6M98.34 111.42h0.6M94.57 105.32h0.6M93.4 105.41h0.6M89.6 115.75h0.6M90.92 111h0.6M97.12 101.32h0.6M88.28 110.84h0.6M88.03 114.8h0.6M93.27 108.78h0.6M94.99 105.88h0.6M94.5 107.05h0.6M99.36 107.99h0.6M94.89 106.02h0.6M92.78 105.09h0.6M95.04 116.67h0.6M98.9 109.46h0.6M100.84 112.96h0.6M95.73 107.66h0.6M91.16 109.52h0.6M93.89 101.27h0.6M90.5 117.11h0.6M95.75 110.64h0.6M95.7 106.31h0.6M96.61 113.28h0.6M93.92 110.71h0.6M98.59 106.23h0.6M95.59 105.07h0.6M97.11 106.74h0.6M99.01 104.96h0.6M100.91 107h0.6M92.06 104.33h0.6M97.32 104.55h0.6M101.32 114.17h0.6M96.81 102h0.6M94.92 105.13h0.6M88.66 110.31h0.6M102.71 105.99h0.6M97.83 114.18h0.6M91.64 106.87h0.6M95.94 110.52h0.6M90.99 109.37h0.6M94.63 112.68h0.6M89.41 105.86h0.6M93.24 106.97h0.6M97.53 105.57h0.6M104.58 105.22h0.6M97.94 112.99h0.6M98.38 107.48h0.6M92.1 107.25h0.6M97.33 108.95h0.6M97.04 110.99h0.6M91.91 104.19h0.6M100.04 106.21h0.6M89.45 116.77h0.6M92.08 104.2h0.6M98.39 103.31h0.6M91.95 113.12h0.6M92.13 119.69h0.6M95.34 120.48h0.6M95.45 108.65h0.6M92.76 107.4h0.6" stroke="#222" stroke-width="0.6" stroke-opacity="0.8" fill="none"/>
<path d="M63.28 96.25 Q72.85 108.65 83.12 120.74" fill="none" stroke="#8a8a8a" stroke-width="0.45"/>
<path d="M85.72 96.25 Q72.85 108.65 56.88 120.74" fill="none" stroke="#8a8a8a" stroke-width="0.45"/>
<path d="M64.48 96.25 Q73.45 108.65 84.33 120.74" fill="none" stroke="#8a8a8a" stroke-width="0.45"/>
<path d="M86.92 96.25 Q73.45 108.65 58.08 120.74" fill="none" stroke="#8a8a8a" stroke-width="0.45"/>
<path d="M65.68 96.25 Q74.05 108.65 85.53 120.74" fill="none" stroke="#8a8a8a" stroke-width="0.45"/>
<path d="M88.12 96.25 Q74.05 108.65 59.28 120.74" fill="none" stroke="#8a8a8a" stroke-width="0.45"/>
<ellipse cx="59.59" cy="109.65" rx="3.96" ry="5.86" fill="#f0f0f0" stroke="#aaa" stroke-width="0.35" opacity="0.85"/>
<ellipse cx="85.99" cy="109.15" rx="3.17" ry="3.52" fill="#ececec" stroke="#aaa" stroke-width="0.35" opacity="0.8"/>
<path d="M65.8 97.75 L82.96 99.25 Q76.7 108.65 77.33 118.82 L63.33 118.82 Q71.08 108.65 65.8 97.75Z" fill="#c2c2c2" stroke="#7a7a7a" stroke-width="0.45"/>
<path d="M70.42 100 Q74.38 108.65 68.58 118.18 M79 100 Q75.2 108.65 72.95 118.18" fill="none" stroke="#808080" stroke-width="0.45"/>
<g transform="rotate(7 75.7 94)">
<ellipse cx="75.7" cy="94" rx="13.2" ry="7.5" fill="#a2a2a2" stroke="#555" stroke-width="0.9" opacity="1"/>
<ellipse cx="75.7" cy="94.4" rx="9.5" ry="5.1" fill="#bcbcbc" stroke="none" stroke-width="0" opacity="1"/>
<ellipse cx="75.7" cy="94.5" rx="11.35" ry="6.15" fill="none" stroke="#6a6a6a" stroke-width="0.5" opacity="1"/>
<ellipse cx="75.7" cy="94.5" rx="9.08" ry="4.92" fill="none" stroke="#6a6a6a" stroke-width="0.5" opacity="1"/>
<ellipse cx="75.7" cy="94.5" rx="6.81" ry="3.69" fill="none" stroke="#6a6a6a" stroke-width="0.5" opacity="1"/>
<ellipse cx="75.7" cy="94.5" rx="4.54" ry="2.46" fill="none" stroke="#6a6a6a" stroke-width="0.5" opacity="1"/>
<ellipse cx="76.2" cy="94.6" rx="3.96" ry="2.1" fill="#e4e4e4" stroke="none" stroke-width="0" opacity="1"/>
<path d="M63.16 92.5 A13.2 7.5 0 0 1 88.24 92.5" fill="none" stroke="#1a1a1a" stroke-width="1.7" stroke-linecap="round"/>
</g>
<ellipse cx="71.2" cy="123.3" rx="18.9" ry="7.04" fill="#c3c3c3" stroke="#8a8a8a" stroke-width="0.5" opacity="1" transform="rotate(-4 71.2 123.3)"/>
<ellipse cx="71.37" cy="122.9" rx="15.75" ry="5.44" fill="none" stroke="#8c8c8c" stroke-width="0.45" opacity="1" transform="rotate(-4 71.37 122.9)"/>
<ellipse cx="70.84" cy="123.24" rx="12.34" ry="4.26" fill="none" stroke="#8c8c8c" stroke-width="0.45" opacity="1" transform="rotate(-4 70.84 123.24)"/>
<ellipse cx="71.58" cy="123.15" rx="8.92" ry="3.08" fill="none" stroke="#8c8c8c" stroke-width="0.45" opacity="1" transform="rotate(-4 71.58 123.15)"/>
<ellipse cx="71.25" cy="122.91" rx="5.51" ry="1.9" fill="none" stroke="#8c8c8c" stroke-width="0.45" opacity="1" transform="rotate(-4 71.25 122.91)"/>
<ellipse cx="72.2" cy="123" rx="5.95" ry="1.92" fill="#e9e9e9" stroke="none" stroke-width="0" opacity="1"/>
<ellipse cx="65.08" cy="123.7" rx="2.1" ry="1.28" fill="#e9e9e9" stroke="none" stroke-width="0" opacity="1"/>
<path d="M57.2 123.8 q5.25 -4.8 12.25 -2.88 t12.25 3.2 t4.38 1.28" fill="none" stroke="#5f5f5f" stroke-width="0.5"/>
<path d="M58.95 126.18 q7 3.2 14 0.96 t10.5 -0.64" fill="none" stroke="#666" stroke-width="0.5"/>
<ellipse cx="95" cy="121.6" rx="3.1" ry="6" fill="#4a4a4a" stroke="#111" stroke-width="0.9" opacity="1"/>
<ellipse cx="95" cy="121.4" rx="1.12" ry="3.12" fill="#e4e4e4" stroke="none" stroke-width="0" opacity="1"/>
<ellipse cx="95.3" cy="135.9" rx="3.1" ry="1.2" fill="#111" stroke="none" stroke-width="0" opacity="1"/>
<path d="M88.07 132.18h0.6M89.13 128.01h0.6M97.5 130.11h0.6M98.02 133.41h0.6M101.93 132.77h0.6M94.16 134.1h0.6M91.73 129.83h0.6M98.71 129.57h0.6M94.55 129.29h0.6M100.08 125.07h0.6M99.73 132.12h0.6M94.73 131.12h0.6M91.4 132.22h0.6M100.19 129.89h0.6M93.74 129.03h0.6M94.29 127.5h0.6M89.95 133.32h0.6M94.93 131.1h0.6M96.15 130.95h0.6M89.32 128.1h0.6M97.36 132h0.6M90.74 128.84h0.6M91.02 131.31h0.6M96.28 130.07h0.6M92.58 130.69h0.6M95.12 128.51h0.6M96.24 128.67h0.6M98.54 131.25h0.6M92.44 131.17h0.6M95.25 128.59h0.6M91.6 126.67h0.6M90.79 130.69h0.6M99.49 128.74h0.6M95.59 130.69h0.6M97.9 130.89h0.6M99.56 131.53h0.6M92.17 130.79h0.6M86.29 129.64h0.6M95.08 131.16h0.6M93.88 131.66h0.6" stroke="#222" stroke-width="0.6" stroke-opacity="0.8" fill="none"/>
<path d="M48 86.59 L49.2 88.83 L49.3 120.13 L51.6 124.6 L51.8 136.9 L48 136.9Z" fill="#1a1a1a"/>
<line x1="50" y1="136.2" x2="76.7" y2="136.2" stroke="#222" stroke-width="1.1" />
<line x1="76.7" y1="136.3" x2="91.05" y2="136.3" stroke="#666" stroke-width="0.9" />
</g>
<rect x="90.8" y="115.5" width="11.5" height="21.4" fill="none" stroke="#777" stroke-width="0.6" />
<rect x="48" y="81" width="57.4" height="55.9" fill="none" stroke="#a8a8a8" stroke-width="0.9" />
<text x="43.1" y="137.9" font-size="2.7" text-anchor="start" fill="#555" >10<tspan dy="-0.45em" font-size="70%">0</tspan><tspan dy="0.315em">&#8203;</tspan></text>
<text x="46" y="142.1" font-size="2.7" text-anchor="start" fill="#555" >10<tspan dy="-0.45em" font-size="70%">0</tspan><tspan dy="0.315em">&#8203;</tspan></text>
<text x="43.1" y="123.93" font-size="2.7" text-anchor="start" fill="#555" >10<tspan dy="-0.45em" font-size="70%">1</tspan><tspan dy="0.315em">&#8203;</tspan></text>
<text x="60.35" y="142.1" font-size="2.7" text-anchor="start" fill="#555" >10<tspan dy="-0.45em" font-size="70%">1</tspan><tspan dy="0.315em">&#8203;</tspan></text>
<text x="43.1" y="109.95" font-size="2.7" text-anchor="start" fill="#555" >10<tspan dy="-0.45em" font-size="70%">2</tspan><tspan dy="0.315em">&#8203;</tspan></text>
<text x="74.7" y="142.1" font-size="2.7" text-anchor="start" fill="#555" >10<tspan dy="-0.45em" font-size="70%">2</tspan><tspan dy="0.315em">&#8203;</tspan></text>
<text x="43.1" y="95.97" font-size="2.7" text-anchor="start" fill="#555" >10<tspan dy="-0.45em" font-size="70%">3</tspan><tspan dy="0.315em">&#8203;</tspan></text>
<text x="89.05" y="142.1" font-size="2.7" text-anchor="start" fill="#555" >10<tspan dy="-0.45em" font-size="70%">3</tspan><tspan dy="0.315em">&#8203;</tspan></text>
<text x="43.1" y="82" font-size="2.7" text-anchor="start" fill="#555" >10<tspan dy="-0.45em" font-size="70%">4</tspan><tspan dy="0.315em">&#8203;</tspan></text>
<text x="103.4" y="142.1" font-size="2.7" text-anchor="start" fill="#555" >10<tspan dy="-0.45em" font-size="70%">4</tspan><tspan dy="0.315em">&#8203;</tspan></text>
<g filter="url(#b2)">
<ellipse cx="135.6" cy="121.7" rx="8.4" ry="6.9" fill="#e2e2e2" stroke="#9a9a9a" stroke-width="0.4" opacity="1"/>
<ellipse cx="134.59" cy="121.4" rx="7.22" ry="6.21" fill="#cfcfcf" stroke="#8a8a8a" stroke-width="0.45" opacity="1"/>
<ellipse cx="134.41" cy="121.28" rx="5.88" ry="4.83" fill="none" stroke="#858585" stroke-width="0.45" opacity="1"/>
<ellipse cx="134.33" cy="121.08" rx="4.7" ry="3.86" fill="none" stroke="#858585" stroke-width="0.45" opacity="1"/>
<ellipse cx="134.24" cy="120.89" rx="3.53" ry="2.9" fill="none" stroke="#858585" stroke-width="0.45" opacity="1"/>
<ellipse cx="134.17" cy="120.72" rx="2.52" ry="2.07" fill="none" stroke="#858585" stroke-width="0.45" opacity="1"/>
<ellipse cx="135.2" cy="120.5" rx="1.68" ry="1.38" fill="#fff" stroke="#777" stroke-width="0.3" opacity="1"/>
<ellipse cx="134.6" cy="133.85" rx="7.14" ry="2.8" fill="#d4d4d4" stroke="#555" stroke-width="0.45" opacity="1"/>
<ellipse cx="133.6" cy="134.25" rx="4.2" ry="1.6" fill="none" stroke="#555" stroke-width="0.4" opacity="1"/>
<path d="M144.48 119.07h0.6M131.95 125.14h0.6M138.9 124.49h0.6M141.18 117.17h0.6M140.81 130.14h0.6M143.06 126.05h0.6M134 125.91h0.6M135.1 114.94h0.6M131.53 123.48h0.6M132.13 118.55h0.6M134.04 121.65h0.6M136.07 123.43h0.6M136.76 129.18h0.6M136.52 125.94h0.6M127.39 107.43h0.6M132.91 127.44h0.6M133.32 120.26h0.6M127.27 128.62h0.6M132.05 125.05h0.6M143.2 126.66h0.6M150.68 122.97h0.6M142.03 127.53h0.6M131.2 123.96h0.6M131.8 118.04h0.6M137.62 119.42h0.6M146.89 119.61h0.6M131.94 124.2h0.6M132.12 123.99h0.6M131.52 115.85h0.6M145.82 126.15h0.6M136.63 121.14h0.6M134.62 125.35h0.6M126.26 119.29h0.6M129.62 130.65h0.6M128.5 130.17h0.6M135.07 123.88h0.6M144.68 128.53h0.6M141.91 117.8h0.6M143.23 132.97h0.6M134.91 121.03h0.6M128.27 129.32h0.6M137.58 123.74h0.6M127.3 132.65h0.6M141.48 123.59h0.6M145.52 118.45h0.6M141.52 118.19h0.6M145.08 122.18h0.6M143.82 121.4h0.6M138.28 130h0.6M129.54 124.23h0.6M129.97 128.4h0.6M131.54 121.64h0.6M134.24 130.13h0.6M128.6 123.56h0.6M133.39 120.67h0.6M130.31 122.82h0.6M136.92 115.16h0.6M137.17 117.16h0.6M135.7 136.28h0.6M129.1 123.34h0.6" stroke="#222" stroke-width="0.6" stroke-opacity="0.7" fill="none"/>
<rect x="124.75" y="115.84" width="2.6" height="21.41" fill="#0a0a0a" stroke="none" stroke-width="0" />
<rect x="124.75" y="136.25" width="5.88" height="1" fill="#0a0a0a" stroke="none" stroke-width="0" />
</g>
<rect x="155.6" y="111.2" width="25.9" height="26.05" fill="none" stroke="#8c8c8c" stroke-width="0.6" />
<rect x="124.75" y="81" width="56.75" height="56.25" fill="none" stroke="#989898" stroke-width="0.8" />
<line x1="124.75" y1="81" x2="124.75" y2="137.25" stroke="#555" stroke-width="0.8" />
<text x="119.85" y="138.25" font-size="2.7" text-anchor="start" fill="#555" >10<tspan dy="-0.45em" font-size="70%">0</tspan><tspan dy="0.315em">&#8203;</tspan></text>
<text x="122.75" y="142.45" font-size="2.7" text-anchor="start" fill="#555" >10<tspan dy="-0.45em" font-size="70%">0</tspan><tspan dy="0.315em">&#8203;</tspan></text>
<text x="119.85" y="124.19" font-size="2.7" text-anchor="start" fill="#555" >10<tspan dy="-0.45em" font-size="70%">1</tspan><tspan dy="0.315em">&#8203;</tspan></text>
<text x="136.94" y="142.45" font-size="2.7" text-anchor="start" fill="#555" >10<tspan dy="-0.45em" font-size="70%">1</tspan><tspan dy="0.315em">&#8203;</tspan></text>
<text x="119.85" y="110.12" font-size="2.7" text-anchor="start" fill="#555" >10<tspan dy="-0.45em" font-size="70%">2</tspan><tspan dy="0.315em">&#8203;</tspan></text>
<text x="151.12" y="142.45" font-size="2.7" text-anchor="start" fill="#555" >10<tspan dy="-0.45em" font-size="70%">2</tspan><tspan dy="0.315em">&#8203;</tspan></text>
<text x="119.85" y="96.06" font-size="2.7" text-anchor="start" fill="#555" >10<tspan dy="-0.45em" font-size="70%">3</tspan><tspan dy="0.315em">&#8203;</tspan></text>
<text x="165.31" y="142.45" font-size="2.7" text-anchor="start" fill="#555" >10<tspan dy="-0.45em" font-size="70%">3</tspan><tspan dy="0.315em">&#8203;</tspan></text>
<text x="119.85" y="82" font-size="2.7" text-anchor="start" fill="#555" >10<tspan dy="-0.45em" font-size="70%">4</tspan><tspan dy="0.315em">&#8203;</tspan></text>
<text x="179.5" y="142.45" font-size="2.7" text-anchor="start" fill="#555" >10<tspan dy="-0.45em" font-size="70%">4</tspan><tspan dy="0.315em">&#8203;</tspan></text>
<text x="100.4" y="22.5" font-size="7" text-anchor="start" fill="#000"  stroke="#000" stroke-width="0.2">DN1</text>
<text x="101" y="31.7" font-size="7" text-anchor="start" fill="#000"  stroke="#000" stroke-width="0.2">10.2</text>
<line x1="102.9" y1="35.4" x2="100.2" y2="38.6" stroke="#333" stroke-width="0.6" />
<text x="100" y="100.5" font-size="7" text-anchor="start" fill="#000"  stroke="#000" stroke-width="0.2">DN1</text>
<text x="101.2" y="108.7" font-size="7" text-anchor="start" fill="#000"  stroke="#000" stroke-width="0.2">7.3</text>
<line x1="103.2" y1="112.6" x2="100.2" y2="116.4" stroke="#333" stroke-width="0.6" />
<text x="161.3" y="19.2" font-size="7" text-anchor="start" fill="#000"  stroke="#000" stroke-width="0.2">ETP</text>
<text x="161.9" y="27.5" font-size="7" text-anchor="start" fill="#000"  stroke="#000" stroke-width="0.2">3.4</text>
<line x1="174.4" y1="27.5" x2="174.4" y2="35.6" stroke="#222" stroke-width="0.8" />
<text x="162" y="97.6" font-size="7" text-anchor="start" fill="#000"  stroke="#000" stroke-width="0.2">ETP</text>
<text x="160.9" y="106.5" font-size="7.2" text-anchor="start" fill="#000"  stroke="#000" stroke-width="0.2">0.74</text>
<line x1="177.4" y1="105.4" x2="177.4" y2="113" stroke="#222" stroke-width="0.8" />
<line x1="105.4" y1="52.5" x2="123.4" y2="52.5" stroke="#111" stroke-width="1" />
<path d="M120.2 49.6 L123.6 52.5 L120.2 55.4" fill="none" stroke="#111" stroke-width="0.9"/>
<line x1="105.4" y1="131.3" x2="123.4" y2="131.3" stroke="#111" stroke-width="1" />
<path d="M120.2 128.4 L123.6 131.3 L120.2 134.2" fill="none" stroke="#111" stroke-width="0.9"/>
<text x="37.7" y="133.8" font-size="7.2" text-anchor="start" transform="rotate(-90 37.7 133.8)" fill="#000"  stroke="#000" stroke-width="0.2">CD25</text>
<text x="40.3" y="149.8" font-size="7.2" text-anchor="start" fill="#000"  stroke="#000" stroke-width="0.2">CD44</text>
<line x1="58.4" y1="148.8" x2="102" y2="148.8" stroke="#333" stroke-width="0.7" />
<text x="119.8" y="149.5" font-size="7.2" text-anchor="start" fill="#000"  stroke="#000" stroke-width="0.2">C-kit</text>
<line x1="136.3" y1="148.7" x2="178.2" y2="148.7" stroke="#333" stroke-width="0.7" />
<rect x="239.6" y="12.4" width="9.8" height="5.4" fill="#8e8e8e" stroke="#000" stroke-width="1.1" />
<rect x="239.6" y="23.8" width="9.8" height="5.3" fill="#fff" stroke="#000" stroke-width="1.1" />
<text x="251.2" y="18.1" font-size="6.5" text-anchor="start" fill="#000"  stroke="#000" stroke-width="0.2" textLength="71" lengthAdjust="spacingAndGlyphs">Lin<tspan dy="-0.42em" font-size="62%" font-weight="bold">-</tspan><tspan dy="0.260em">&#8203;</tspan>CD44<tspan dy="-0.42em" font-size="62%" font-weight="bold">+</tspan><tspan dy="0.260em">&#8203;</tspan>CD25<tspan dy="-0.42em" font-size="62%" font-weight="bold">-</tspan><tspan dy="0.260em">&#8203;</tspan>c-kit<tspan dy="-0.42em" font-size="62%" font-weight="bold">-</tspan><tspan dy="0.260em">&#8203;</tspan> DN1</text>
<text x="251.2" y="29.2" font-size="6.5" text-anchor="start" fill="#000"  stroke="#000" stroke-width="0.2" textLength="74.4" lengthAdjust="spacingAndGlyphs">Lin<tspan dy="-0.42em" font-size="62%" font-weight="bold">-</tspan><tspan dy="0.260em">&#8203;</tspan>CD44<tspan dy="-0.42em" font-size="62%" font-weight="bold">+</tspan><tspan dy="0.260em">&#8203;</tspan>CD25<tspan dy="-0.42em" font-size="62%" font-weight="bold">-</tspan><tspan dy="0.260em">&#8203;</tspan>c-kit<tspan dy="-0.42em" font-size="62%" font-weight="bold">hi</tspan><tspan dy="0.260em">&#8203;</tspan> ETP</text>
<text x="216.3" y="98.7" font-size="7.1" text-anchor="start" transform="rotate(-90 216.3 98.7)" fill="#000"  stroke="#000" stroke-width="0.2" textLength="50.6" lengthAdjust="spacingAndGlyphs">Thymocytes (%)</text>
<line x1="239.4" y1="41.2" x2="239.4" y2="73.3" stroke="#000" stroke-width="1" />
<line x1="237.3" y1="41.7" x2="239.4" y2="41.7" stroke="#000" stroke-width="1" />
<text x="237.1" y="43.6" font-size="5.3" text-anchor="end" font-weight="bold" fill="#000"  stroke="#000" stroke-width="0.12">8</text>
<line x1="237.3" y1="48.6" x2="239.4" y2="48.6" stroke="#000" stroke-width="1" />
<text x="237.1" y="50.5" font-size="5.3" text-anchor="end" font-weight="bold" fill="#000"  stroke="#000" stroke-width="0.12">7</text>
<line x1="237.3" y1="55.5" x2="239.4" y2="55.5" stroke="#000" stroke-width="1" />
<text x="237.1" y="57.4" font-size="5.3" text-anchor="end" font-weight="bold" fill="#000"  stroke="#000" stroke-width="0.12">6</text>
<line x1="237.3" y1="62.5" x2="239.4" y2="62.5" stroke="#000" stroke-width="1" />
<text x="237.1" y="64.4" font-size="5.3" text-anchor="end" font-weight="bold" fill="#000"  stroke="#000" stroke-width="0.12">5</text>
<line x1="237.3" y1="69.5" x2="239.4" y2="69.5" stroke="#000" stroke-width="1" />
<text x="237.1" y="71.4" font-size="5.3" text-anchor="end" font-weight="bold" fill="#000"  stroke="#000" stroke-width="0.12">4</text>
<line x1="238" y1="73.3" x2="240.8" y2="73.3" stroke="#000" stroke-width="1" />
<line x1="239.4" y1="78.7" x2="239.4" y2="115.25" stroke="#000" stroke-width="1" />
<line x1="238" y1="78.7" x2="240.8" y2="78.7" stroke="#000" stroke-width="1" />
<line x1="237.3" y1="89.4" x2="239.4" y2="89.4" stroke="#000" stroke-width="1" />
<text x="237.1" y="91.3" font-size="5.3" text-anchor="end" font-weight="bold" fill="#000"  stroke="#000" stroke-width="0.12">0.50</text>
<line x1="237.3" y1="102.3" x2="239.4" y2="102.3" stroke="#000" stroke-width="1" />
<text x="237.1" y="104.2" font-size="5.3" text-anchor="end" font-weight="bold" fill="#000"  stroke="#000" stroke-width="0.12">0.25</text>
<line x1="237.3" y1="115.25" x2="239.4" y2="115.25" stroke="#000" stroke-width="1" />
<text x="237.1" y="117.15" font-size="5.3" text-anchor="end" font-weight="bold" fill="#000"  stroke="#000" stroke-width="0.12">0.00</text>
<line x1="238.9" y1="115.25" x2="325" y2="115.25" stroke="#000" stroke-width="1" />
<rect x="248.5" y="52" width="18.9" height="21.4" fill="#8e8e8e" stroke="none" stroke-width="0" />
<line x1="248.5" y1="51.45" x2="248.5" y2="73.4" stroke="#000" stroke-width="1.1" />
<line x1="267.4" y1="51.45" x2="267.4" y2="73.4" stroke="#000" stroke-width="1.1" />
<line x1="248.5" y1="52" x2="267.4" y2="52" stroke="#000" stroke-width="1.1" />
<rect x="248.5" y="78.6" width="18.9" height="36.65" fill="#8e8e8e" stroke="none" stroke-width="0" />
<rect x="248.5" y="93" width="18.9" height="22.25" fill="#fff" stroke="none" stroke-width="0" />
<line x1="248.5" y1="93" x2="267.4" y2="93" stroke="#000" stroke-width="1.25" />
<line x1="248.5" y1="78.6" x2="248.5" y2="115.25" stroke="#000" stroke-width="1.1" />
<line x1="267.4" y1="78.6" x2="267.4" y2="115.25" stroke="#000" stroke-width="1.1" />
<line x1="248.5" y1="115.25" x2="267.4" y2="115.25" stroke="#000" stroke-width="1.1" />
<line x1="258.4" y1="47.3" x2="258.4" y2="57.3" stroke="#000" stroke-width="1.1" />
<line x1="253.8" y1="47.3" x2="263" y2="47.3" stroke="#000" stroke-width="1.1" />
<line x1="253.8" y1="57.3" x2="263" y2="57.3" stroke="#000" stroke-width="1.1" />
<line x1="258.4" y1="90" x2="258.4" y2="96" stroke="#000" stroke-width="1.1" />
<line x1="253.8" y1="90" x2="263" y2="90" stroke="#000" stroke-width="1.1" />
<line x1="253.8" y1="96" x2="263" y2="96" stroke="#000" stroke-width="1.1" />
<rect x="298.5" y="58.3" width="18.8" height="15.1" fill="#8e8e8e" stroke="none" stroke-width="0" />
<line x1="298.5" y1="57.75" x2="298.5" y2="73.4" stroke="#000" stroke-width="1.1" />
<line x1="317.3" y1="57.75" x2="317.3" y2="73.4" stroke="#000" stroke-width="1.1" />
<line x1="298.5" y1="58.3" x2="317.3" y2="58.3" stroke="#000" stroke-width="1.1" />
<rect x="298.5" y="78.6" width="18.8" height="36.65" fill="#8e8e8e" stroke="none" stroke-width="0" />
<rect x="298.5" y="105.7" width="18.8" height="9.55" fill="#fff" stroke="none" stroke-width="0" />
<line x1="298.5" y1="105.7" x2="317.3" y2="105.7" stroke="#000" stroke-width="1.25" />
<line x1="298.5" y1="78.6" x2="298.5" y2="115.25" stroke="#000" stroke-width="1.1" />
<line x1="317.3" y1="78.6" x2="317.3" y2="115.25" stroke="#000" stroke-width="1.1" />
<line x1="298.5" y1="115.25" x2="317.3" y2="115.25" stroke="#000" stroke-width="1.1" />
<line x1="308.1" y1="53.5" x2="308.1" y2="63" stroke="#000" stroke-width="1.1" />
<line x1="303.3" y1="53.5" x2="312.9" y2="53.5" stroke="#000" stroke-width="1.1" />
<line x1="303.3" y1="63" x2="312.9" y2="63" stroke="#000" stroke-width="1.1" />
<line x1="303.2" y1="105.5" x2="312.8" y2="105.5" stroke="#000" stroke-width="1.9" />
<text x="284" y="66.7" font-size="7" text-anchor="middle" fill="#000"  stroke="#000" stroke-width="0.2">NS</text>
<line x1="267.4" y1="65.5" x2="278.3" y2="65.5" stroke="#111" stroke-width="0.8" />
<line x1="290" y1="65.5" x2="301" y2="65.5" stroke="#111" stroke-width="0.8" />
<text x="272.2" y="110.3" font-size="7" text-anchor="start" fill="#000"  stroke="#000" stroke-width="0.2">0.0003</text>
<line x1="267.4" y1="109.3" x2="271.4" y2="109.3" stroke="#111" stroke-width="0.8" />
<line x1="294.3" y1="109.3" x2="298.5" y2="109.3" stroke="#111" stroke-width="0.8" />
<line x1="257.8" y1="115.25" x2="257.8" y2="117" stroke="#000" stroke-width="1" />
<line x1="308.1" y1="115.25" x2="308.1" y2="117" stroke="#000" stroke-width="1" />
<text x="256.8" y="122.5" font-size="6.5" text-anchor="middle" fill="#000"  stroke="#000" stroke-width="0.2">Vehicle</text>
<text x="308.8" y="122.5" font-size="6.5" text-anchor="middle" fill="#000"  stroke="#000" stroke-width="0.2">Sunitinib</text>
<line x1="382.1" y1="19.4" x2="382.1" y2="108" stroke="#000" stroke-width="1.25" />
<line x1="378.8" y1="20" x2="382.1" y2="20" stroke="#000" stroke-width="1.1" />
<text x="378.6" y="22.6" font-size="6.6" text-anchor="end" font-weight="bold" fill="#000"  stroke="#000" stroke-width="0.12">0.8</text>
<line x1="378.8" y1="31" x2="382.1" y2="31" stroke="#000" stroke-width="1.1" />
<text x="378.6" y="33.6" font-size="6.6" text-anchor="end" font-weight="bold" fill="#000"  stroke="#000" stroke-width="0.12">0.7</text>
<line x1="378.8" y1="42" x2="382.1" y2="42" stroke="#000" stroke-width="1.1" />
<text x="378.6" y="44.6" font-size="6.6" text-anchor="end" font-weight="bold" fill="#000"  stroke="#000" stroke-width="0.12">0.6</text>
<line x1="378.8" y1="53" x2="382.1" y2="53" stroke="#000" stroke-width="1.1" />
<text x="378.6" y="55.6" font-size="6.6" text-anchor="end" font-weight="bold" fill="#000"  stroke="#000" stroke-width="0.12">0.5</text>
<line x1="378.8" y1="64" x2="382.1" y2="64" stroke="#000" stroke-width="1.1" />
<text x="378.6" y="66.6" font-size="6.6" text-anchor="end" font-weight="bold" fill="#000"  stroke="#000" stroke-width="0.12">0.4</text>
<line x1="378.8" y1="75" x2="382.1" y2="75" stroke="#000" stroke-width="1.1" />
<text x="378.6" y="77.6" font-size="6.6" text-anchor="end" font-weight="bold" fill="#000"  stroke="#000" stroke-width="0.12">0.3</text>
<line x1="378.8" y1="86" x2="382.1" y2="86" stroke="#000" stroke-width="1.1" />
<text x="378.6" y="88.6" font-size="6.6" text-anchor="end" font-weight="bold" fill="#000"  stroke="#000" stroke-width="0.12">0.2</text>
<line x1="378.8" y1="97" x2="382.1" y2="97" stroke="#000" stroke-width="1.1" />
<text x="378.6" y="99.6" font-size="6.6" text-anchor="end" font-weight="bold" fill="#000"  stroke="#000" stroke-width="0.12">0.1</text>
<line x1="378.8" y1="108" x2="382.1" y2="108" stroke="#000" stroke-width="1.1" />
<text x="378.6" y="110.6" font-size="6.6" text-anchor="end" font-weight="bold" fill="#000"  stroke="#000" stroke-width="0.12">0.0</text>
<line x1="381.5" y1="108" x2="517" y2="108" stroke="#000" stroke-width="1.25" />
<rect x="390.7" y="26.3" width="11.7" height="4.7" fill="#fff" stroke="#000" stroke-width="1.2" />
<rect x="390.7" y="34.3" width="11.7" height="5.1" fill="#000" stroke="#000" stroke-width="1.2" />
<text x="405.2" y="31.1" font-size="8" text-anchor="start" fill="#000"  stroke="#000" stroke-width="0.2" textLength="24.6" lengthAdjust="spacingAndGlyphs">Vehicle</text>
<text x="405.2" y="39.4" font-size="8" text-anchor="start" fill="#000"  stroke="#000" stroke-width="0.2" textLength="27.6" lengthAdjust="spacingAndGlyphs">Sunitinib</text>
<text x="356.1" y="92.2" font-size="7.6" text-anchor="start" transform="rotate(-90 356.1 92.2)" fill="#000"  stroke="#000" stroke-width="0.2" textLength="62.6" lengthAdjust="spacingAndGlyphs">Donor derived Lin<tspan dy="-0.42em" font-size="62%" font-weight="bold">-</tspan><tspan dy="0.260em">&#8203;</tspan></text>
<text x="364.9" y="93.5" font-size="7.6" text-anchor="start" transform="rotate(-90 364.9 93.5)" fill="#000"  stroke="#000" stroke-width="0.2" textLength="65" lengthAdjust="spacingAndGlyphs">thymocytes (x10<tspan dy="-0.38em" font-size="60%">6</tspan><tspan dy="0.228em">&#8203;</tspan>)</text>
<line x1="392.75" y1="103.6" x2="392.75" y2="104.5" stroke="#000" stroke-width="1.1" />
<line x1="388.56" y1="103.6" x2="396.94" y2="103.6" stroke="#000" stroke-width="1.1" />
<rect x="385" y="104.5" width="15.5" height="3.5" fill="#fff" stroke="#000" stroke-width="1.1" />
<line x1="408.25" y1="97.5" x2="408.25" y2="99.5" stroke="#000" stroke-width="1.1" />
<line x1="404.06" y1="97.5" x2="412.44" y2="97.5" stroke="#000" stroke-width="1.1" />
<rect x="400.5" y="99.5" width="15.5" height="8.5" fill="#000" stroke="#000" stroke-width="1.1" />
<line x1="431.75" y1="95.5" x2="431.75" y2="99.5" stroke="#000" stroke-width="1.1" />
<line x1="427.56" y1="95.5" x2="435.94" y2="95.5" stroke="#000" stroke-width="1.1" />
<rect x="424" y="99.5" width="15.5" height="8.5" fill="#fff" stroke="#000" stroke-width="1.1" />
<line x1="447.25" y1="77" x2="447.25" y2="85.5" stroke="#000" stroke-width="1.1" />
<line x1="443.06" y1="77" x2="451.44" y2="77" stroke="#000" stroke-width="1.1" />
<rect x="439.5" y="85.5" width="15.5" height="22.5" fill="#000" stroke="#000" stroke-width="1.1" />
<line x1="468.55" y1="103.2" x2="468.55" y2="104" stroke="#000" stroke-width="1.1" />
<line x1="464.26" y1="103.2" x2="472.84" y2="103.2" stroke="#000" stroke-width="1.1" />
<rect x="460.6" y="104" width="15.9" height="4" fill="#fff" stroke="#000" stroke-width="1.1" />
<line x1="484.45" y1="99.6" x2="484.45" y2="102.5" stroke="#000" stroke-width="1.1" />
<line x1="480.16" y1="99.6" x2="488.74" y2="99.6" stroke="#000" stroke-width="1.1" />
<rect x="476.5" y="102.5" width="15.9" height="5.5" fill="#000" stroke="#000" stroke-width="1.1" />
<line x1="507.4" y1="24.3" x2="507.4" y2="47" stroke="#111" stroke-width="0.9" />
<line x1="503.2" y1="24.3" x2="511.6" y2="24.3" stroke="#111" stroke-width="0.9" />
<rect x="499.6" y="47.2" width="15.8" height="60.8" fill="#707070" stroke="#000" stroke-width="1.35" />
<text x="394" y="103.2" font-size="5" text-anchor="middle" fill="#000"  stroke="#000" stroke-width="0.2">*</text>
<text x="432" y="93.5" font-size="5" text-anchor="middle" fill="#000"  stroke="#000" stroke-width="0.2">*</text>
<text x="370.4" y="118.2" font-size="7.4" text-anchor="start" fill="#000"  stroke="#000" stroke-width="0.2">Day</text>
<text x="401.6" y="118.2" font-size="7.4" text-anchor="middle" fill="#000"  stroke="#000" stroke-width="0.2">14</text>
<text x="438.1" y="118.2" font-size="7.4" text-anchor="middle" fill="#000"  stroke="#000" stroke-width="0.2">28</text>
<text x="475.8" y="118.2" font-size="7.4" text-anchor="middle" fill="#000"  stroke="#000" stroke-width="0.2">84</text>
<text x="505.6" y="118.2" font-size="7.4" text-anchor="middle" fill="#000"  stroke="#000" stroke-width="0.2">XRT</text>
<line x1="216.4" y1="171.4" x2="216.4" y2="230.5" stroke="#000" stroke-width="1" />
<line x1="214.2" y1="172" x2="216.4" y2="172" stroke="#000" stroke-width="1" />
<text x="214.4" y="173.6" font-size="4.6" text-anchor="end" font-weight="bold" fill="#000"  stroke="#000" stroke-width="0.12">0.07</text>
<line x1="214.2" y1="180.36" x2="216.4" y2="180.36" stroke="#000" stroke-width="1" />
<text x="214.4" y="181.96" font-size="4.6" text-anchor="end" font-weight="bold" fill="#000"  stroke="#000" stroke-width="0.12">0.06</text>
<line x1="214.2" y1="188.72" x2="216.4" y2="188.72" stroke="#000" stroke-width="1" />
<text x="214.4" y="190.32" font-size="4.6" text-anchor="end" font-weight="bold" fill="#000"  stroke="#000" stroke-width="0.12">0.05</text>
<line x1="214.2" y1="197.08" x2="216.4" y2="197.08" stroke="#000" stroke-width="1" />
<text x="214.4" y="198.68" font-size="4.6" text-anchor="end" font-weight="bold" fill="#000"  stroke="#000" stroke-width="0.12">0.04</text>
<line x1="214.2" y1="205.44" x2="216.4" y2="205.44" stroke="#000" stroke-width="1" />
<text x="214.4" y="207.04" font-size="4.6" text-anchor="end" font-weight="bold" fill="#000"  stroke="#000" stroke-width="0.12">0.03</text>
<line x1="214.2" y1="213.8" x2="216.4" y2="213.8" stroke="#000" stroke-width="1" />
<text x="214.4" y="215.4" font-size="4.6" text-anchor="end" font-weight="bold" fill="#000"  stroke="#000" stroke-width="0.12">0.02</text>
<line x1="214.2" y1="222.16" x2="216.4" y2="222.16" stroke="#000" stroke-width="1" />
<text x="214.4" y="223.76" font-size="4.6" text-anchor="end" font-weight="bold" fill="#000"  stroke="#000" stroke-width="0.12">0.01</text>
<line x1="214.2" y1="230.52" x2="216.4" y2="230.52" stroke="#000" stroke-width="1" />
<text x="214.4" y="232.12" font-size="4.6" text-anchor="end" font-weight="bold" fill="#000"  stroke="#000" stroke-width="0.12">0.00</text>
<line x1="215.9" y1="230.5" x2="337" y2="230.5" stroke="#000" stroke-width="1" />
<text x="202.6" y="229.8" font-size="6.9" text-anchor="start" transform="rotate(-90 202.6 229.8)" fill="#000"  stroke="#000" stroke-width="0.2" textLength="58" lengthAdjust="spacingAndGlyphs">Thymus weight (g)</text>
<line x1="228" y1="170.3" x2="259.2" y2="170.3" stroke="#000" stroke-width="0.9" />
<text x="245.7" y="167.6" font-size="8.5" text-anchor="middle" font-weight="bold" fill="#000"  stroke="#000" stroke-width="0.12">**</text>
<path d="M231.8 195.25 L233.35 198.04 L230.25 198.04Z" fill="#c6c6c6" stroke="#c6c6c6" stroke-width="0.3"/>
<path d="M228.3 198.85 L229.85 201.64 L226.75 201.64Z" fill="#c6c6c6" stroke="#c6c6c6" stroke-width="0.3"/>
<path d="M235.1 199.95 L236.65 202.74 L233.55 202.74Z" fill="#c6c6c6" stroke="#c6c6c6" stroke-width="0.3"/>
<path d="M231.8 201.05 L233.35 203.84 L230.25 203.84Z" fill="#c6c6c6" stroke="#c6c6c6" stroke-width="0.3"/>
<path d="M224.9 204.45 L226.45 207.24 L223.35 207.24Z" fill="#c6c6c6" stroke="#c6c6c6" stroke-width="0.3"/>
<path d="M231.6 204.65 L233.15 207.44 L230.05 207.44Z" fill="#c6c6c6" stroke="#c6c6c6" stroke-width="0.3"/>
<path d="M238.4 204.45 L239.95 207.24 L236.85 207.24Z" fill="#c6c6c6" stroke="#c6c6c6" stroke-width="0.3"/>
<path d="M228.3 209.95 L229.85 212.74 L226.75 212.74Z" fill="#c6c6c6" stroke="#c6c6c6" stroke-width="0.3"/>
<path d="M235.1 210.75 L236.65 213.54 L233.55 213.54Z" fill="#c6c6c6" stroke="#c6c6c6" stroke-width="0.3"/>
<path d="M231.8 213.15 L233.35 215.94 L230.25 215.94Z" fill="#c6c6c6" stroke="#c6c6c6" stroke-width="0.3"/>
<line x1="221.5" y1="206.3" x2="241.8" y2="206.3" stroke="#8c8c8c" stroke-width="0.8" />
<rect x="256.3" y="176.1" width="2.6" height="2.6" fill="#000"/>
<rect x="259.8" y="177.7" width="2.6" height="2.6" fill="#000"/>
<rect x="259.8" y="186.9" width="2.6" height="2.6" fill="#000"/>
<rect x="256.3" y="191.2" width="2.6" height="2.6" fill="#000"/>
<rect x="259.8" y="193.3" width="2.6" height="2.6" fill="#000"/>
<rect x="263.5" y="195.2" width="2.6" height="2.6" fill="#000"/>
<rect x="256.3" y="196.5" width="2.6" height="2.6" fill="#000"/>
<rect x="259.8" y="197.6" width="2.6" height="2.6" fill="#000"/>
<rect x="263.5" y="198.7" width="2.6" height="2.6" fill="#000"/>
<rect x="256.5" y="199.9" width="2.6" height="2.6" fill="#000"/>
<rect x="259.8" y="201.6" width="2.6" height="2.6" fill="#000"/>
<rect x="259.8" y="210.2" width="2.6" height="2.6" fill="#000"/>
<rect x="263.5" y="209.4" width="2.6" height="2.6" fill="#000"/>
<line x1="251.3" y1="196.4" x2="271.6" y2="196.4" stroke="#000" stroke-width="0.9" />
<circle cx="290.8" cy="173" r="1.35" fill="#000" stroke="none" stroke-width="0.5"/>
<circle cx="287.4" cy="175.4" r="1.35" fill="#000" stroke="none" stroke-width="0.5"/>
<circle cx="294.3" cy="177" r="1.35" fill="#000" stroke="none" stroke-width="0.5"/>
<circle cx="290.8" cy="178.8" r="1.35" fill="#000" stroke="none" stroke-width="0.5"/>
<circle cx="290.8" cy="188.5" r="1.35" fill="#000" stroke="none" stroke-width="0.5"/>
<circle cx="287.4" cy="195.7" r="1.35" fill="#000" stroke="none" stroke-width="0.5"/>
<circle cx="294.3" cy="196.5" r="1.35" fill="#000" stroke="none" stroke-width="0.5"/>
<circle cx="290.8" cy="198.5" r="1.35" fill="#000" stroke="none" stroke-width="0.5"/>
<line x1="281.3" y1="185.4" x2="301.1" y2="185.4" stroke="#000" stroke-width="0.9" />
<circle cx="320.2" cy="204.8" r="1.3" fill="#c0c0c0" stroke="none" stroke-width="0.5"/>
<circle cx="324.1" cy="204.8" r="1.3" fill="#c0c0c0" stroke="none" stroke-width="0.5"/>
<circle cx="321" cy="211.5" r="1.3" fill="#c0c0c0" stroke="none" stroke-width="0.5"/>
<circle cx="321" cy="215.5" r="1.3" fill="#c0c0c0" stroke="none" stroke-width="0.5"/>
<line x1="310.7" y1="208.8" x2="330.5" y2="208.8" stroke="#909090" stroke-width="0.9" />
<text x="231.2" y="241" font-size="6.6" text-anchor="middle" fill="#000"  stroke="#000" stroke-width="0.2">Vehicle</text>
<text x="262.6" y="241" font-size="6.6" text-anchor="middle" fill="#000"  stroke="#000" stroke-width="0.2">Sunitinib</text>
<text x="291.9" y="241" font-size="6.5" text-anchor="middle" fill="#000"  stroke="#000" stroke-width="0.2">XRT</text>
<text x="322.6" y="241" font-size="6.5" text-anchor="middle" fill="#000"  stroke="#000" stroke-width="0.2">Untreated</text>
<text x="322.8" y="248.5" font-size="6.5" text-anchor="middle" fill="#000"  stroke="#000" stroke-width="0.2">Rag</text>
<line x1="215" y1="244.8" x2="302.5" y2="244.8" stroke="#a8a8a8" stroke-width="0.8" stroke-dasharray="1.4 0.7"/>
<text x="260" y="253.6" font-size="6.4" text-anchor="middle" fill="#000"  stroke="#000" stroke-width="0.2">+BMT</text>
<line x1="390.2" y1="172.3" x2="390.2" y2="235" stroke="#000" stroke-width="1" />
<line x1="388" y1="172.9" x2="390.2" y2="172.9" stroke="#000" stroke-width="1" />
<text x="387.7" y="174.5" font-size="4.4" text-anchor="end" font-weight="bold" fill="#000"  stroke="#000" stroke-width="0.12">150</text>
<line x1="388" y1="193.8" x2="390.2" y2="193.8" stroke="#000" stroke-width="1" />
<text x="387.7" y="195.4" font-size="4.4" text-anchor="end" font-weight="bold" fill="#000"  stroke="#000" stroke-width="0.12">100</text>
<line x1="388" y1="214.5" x2="390.2" y2="214.5" stroke="#000" stroke-width="1" />
<text x="387.7" y="216.1" font-size="4.4" text-anchor="end" font-weight="bold" fill="#000"  stroke="#000" stroke-width="0.12">50</text>
<line x1="388" y1="235" x2="390.2" y2="235" stroke="#000" stroke-width="1" />
<text x="387.7" y="236.6" font-size="4.4" text-anchor="end" font-weight="bold" fill="#000"  stroke="#000" stroke-width="0.12">0</text>
<line x1="389" y1="183.3" x2="390.2" y2="183.3" stroke="#000" stroke-width="0.8" />
<line x1="389" y1="204.1" x2="390.2" y2="204.1" stroke="#000" stroke-width="0.8" />
<line x1="389" y1="224.8" x2="390.2" y2="224.8" stroke="#000" stroke-width="0.8" />
<line x1="389.7" y1="235" x2="514.5" y2="235" stroke="#000" stroke-width="1" />
<line x1="405.8" y1="235" x2="405.8" y2="236.8" stroke="#000" stroke-width="0.8" />
<line x1="437.2" y1="235" x2="437.2" y2="236.8" stroke="#000" stroke-width="0.8" />
<line x1="468.4" y1="235" x2="468.4" y2="236.8" stroke="#000" stroke-width="0.8" />
<line x1="500" y1="235" x2="500" y2="236.8" stroke="#000" stroke-width="0.8" />
<text x="376.6" y="230.4" font-size="6.9" text-anchor="start" transform="rotate(-90 376.6 230.4)" fill="#000"  stroke="#000" stroke-width="0.2" textLength="61.5" lengthAdjust="spacingAndGlyphs">Thymocytes (x 10<tspan dy="-0.38em" font-size="60%">6</tspan><tspan dy="0.228em">&#8203;</tspan>)</text>
<line x1="402.3" y1="170.2" x2="434.2" y2="170.2" stroke="#000" stroke-width="0.9" />
<text x="417.6" y="167.8" font-size="8.5" text-anchor="middle" font-weight="bold" fill="#000"  stroke="#000" stroke-width="0.12">***</text>
<path d="M405.8 217.15 L407.05 219.4 L404.55 219.4Z" fill="#fff" stroke="#333" stroke-width="0.5"/>
<path d="M405.8 221.35 L407.05 223.6 L404.55 223.6Z" fill="#fff" stroke="#333" stroke-width="0.5"/>
<path d="M402.3 224.15 L403.55 226.4 L401.05 226.4Z" fill="#fff" stroke="#333" stroke-width="0.5"/>
<path d="M407 225.55 L408.25 227.8 L405.75 227.8Z" fill="#fff" stroke="#333" stroke-width="0.5"/>
<path d="M397.4 228.95 L398.65 231.2 L396.15 231.2Z" fill="#fff" stroke="#333" stroke-width="0.5"/>
<path d="M400.4 229.15 L401.65 231.4 L399.15 231.4Z" fill="#fff" stroke="#333" stroke-width="0.5"/>
<path d="M403.4 228.95 L404.65 231.2 L402.15 231.2Z" fill="#fff" stroke="#333" stroke-width="0.5"/>
<path d="M406.4 229.25 L407.65 231.5 L405.15 231.5Z" fill="#fff" stroke="#333" stroke-width="0.5"/>
<path d="M409.4 228.95 L410.65 231.2 L408.15 231.2Z" fill="#fff" stroke="#333" stroke-width="0.5"/>
<path d="M412.4 229.15 L413.65 231.4 L411.15 231.4Z" fill="#fff" stroke="#333" stroke-width="0.5"/>
<path d="M415 228.95 L416.25 231.2 L413.75 231.2Z" fill="#fff" stroke="#333" stroke-width="0.5"/>
<path d="M408 230.95 L409.25 233.2 L406.75 233.2Z" fill="#fff" stroke="#333" stroke-width="0.5"/>
<path d="M405 231.35 L406.25 233.6 L403.75 233.6Z" fill="#fff" stroke="#333" stroke-width="0.5"/>
<line x1="394.8" y1="230.3" x2="416" y2="230.3" stroke="#000" stroke-width="0.8" />
<rect x="439.75" y="205.25" width="2.7" height="2.7" fill="#000"/>
<rect x="432.25" y="207.15" width="2.7" height="2.7" fill="#000"/>
<rect x="436.05" y="207.65" width="2.7" height="2.7" fill="#000"/>
<rect x="432.25" y="212.45" width="2.7" height="2.7" fill="#000"/>
<rect x="439.75" y="213.85" width="2.7" height="2.7" fill="#000"/>
<rect x="436.05" y="216.55" width="2.7" height="2.7" fill="#000"/>
<rect x="428.55" y="217.95" width="2.7" height="2.7" fill="#000"/>
<rect x="434.05" y="219.05" width="2.7" height="2.7" fill="#000"/>
<rect x="439.75" y="218.35" width="2.7" height="2.7" fill="#000"/>
<rect x="432.25" y="221.25" width="2.7" height="2.7" fill="#000"/>
<rect x="436.05" y="221.25" width="2.7" height="2.7" fill="#000"/>
<rect x="432.25" y="224.65" width="2.7" height="2.7" fill="#000"/>
<rect x="436.05" y="225.55" width="2.7" height="2.7" fill="#000"/>
<rect x="439.75" y="225.15" width="2.7" height="2.7" fill="#000"/>
<line x1="426.8" y1="219.5" x2="447.7" y2="219.5" stroke="#000" stroke-width="0.9" />
<circle cx="468.4" cy="180.5" r="1.4" fill="#000" stroke="none" stroke-width="0.5"/>
<circle cx="468.4" cy="189.3" r="1.4" fill="#000" stroke="none" stroke-width="0.5"/>
<circle cx="464.3" cy="193.4" r="1.4" fill="#000" stroke="none" stroke-width="0.5"/>
<circle cx="468.4" cy="195.2" r="1.4" fill="#000" stroke="none" stroke-width="0.5"/>
<circle cx="472.1" cy="195.2" r="1.4" fill="#000" stroke="none" stroke-width="0.5"/>
<circle cx="476" cy="192.3" r="1.4" fill="#000" stroke="none" stroke-width="0.5"/>
<circle cx="468.4" cy="202.6" r="1.4" fill="#000" stroke="none" stroke-width="0.5"/>
<circle cx="468.4" cy="226.1" r="1.4" fill="#000" stroke="none" stroke-width="0.5"/>
<line x1="457.8" y1="194.4" x2="478.7" y2="194.4" stroke="#000" stroke-width="0.9" />
<circle cx="493.5" cy="231.2" r="0.9" fill="#fff" stroke="#333" stroke-width="0.5"/>
<circle cx="496.2" cy="231.2" r="0.9" fill="#fff" stroke="#333" stroke-width="0.5"/>
<circle cx="499" cy="231.2" r="0.9" fill="#fff" stroke="#333" stroke-width="0.5"/>
<circle cx="501.8" cy="231.2" r="0.9" fill="#fff" stroke="#333" stroke-width="0.5"/>
<path d="M506.3 229.5 L507.2 231.12 L505.4 231.12Z" fill="#fff" stroke="#444" stroke-width="0.4"/>
<line x1="490" y1="231.3" x2="509.4" y2="231.3" stroke="#222" stroke-width="0.6" />
<text x="410" y="243.6" font-size="6.6" text-anchor="middle" fill="#000"  stroke="#000" stroke-width="0.2">Vehicle</text>
<text x="440" y="243.6" font-size="6.6" text-anchor="middle" fill="#000"  stroke="#000" stroke-width="0.2">Sunitinib</text>
<text x="469.8" y="243.6" font-size="6.6" text-anchor="middle" fill="#000"  stroke="#000" stroke-width="0.2">XRT</text>
<text x="500.2" y="243.6" font-size="6.55" text-anchor="middle" fill="#000"  stroke="#000" stroke-width="0.2">Untreated</text>
<text x="500.2" y="251.6" font-size="6.55" text-anchor="middle" fill="#000"  stroke="#000" stroke-width="0.2">Rag</text>
<line x1="390.2" y1="247.5" x2="481" y2="247.5" stroke="#222" stroke-width="0.8" />
<text x="437.8" y="256.7" font-size="6.4" text-anchor="middle" fill="#000"  stroke="#000" stroke-width="0.2">+BMT</text>
<line x1="24.2" y1="285" x2="24.2" y2="377.6" stroke="#000" stroke-width="0.9" />
<line x1="22" y1="292.4" x2="24.2" y2="292.4" stroke="#000" stroke-width="0.9" />
<text x="21.3" y="292.6" font-size="5" text-anchor="middle" font-weight="bold" transform="rotate(-90 21.3 292.6)" fill="#000"  stroke="#000" stroke-width="0.12">12</text>
<line x1="23.1" y1="299.5" x2="24.2" y2="299.5" stroke="#000" stroke-width="0.7" />
<line x1="22" y1="306.6" x2="24.2" y2="306.6" stroke="#000" stroke-width="0.9" />
<text x="21.3" y="306.8" font-size="5" text-anchor="middle" font-weight="bold" transform="rotate(-90 21.3 306.8)" fill="#000"  stroke="#000" stroke-width="0.12">10</text>
<line x1="23.1" y1="313.7" x2="24.2" y2="313.7" stroke="#000" stroke-width="0.7" />
<line x1="22" y1="320.8" x2="24.2" y2="320.8" stroke="#000" stroke-width="0.9" />
<text x="21.3" y="321" font-size="5" text-anchor="middle" font-weight="bold" transform="rotate(-90 21.3 321)" fill="#000"  stroke="#000" stroke-width="0.12">8</text>
<line x1="23.1" y1="327.9" x2="24.2" y2="327.9" stroke="#000" stroke-width="0.7" />
<line x1="22" y1="335" x2="24.2" y2="335" stroke="#000" stroke-width="0.9" />
<text x="21.3" y="335.2" font-size="5" text-anchor="middle" font-weight="bold" transform="rotate(-90 21.3 335.2)" fill="#000"  stroke="#000" stroke-width="0.12">6</text>
<line x1="23.1" y1="342.1" x2="24.2" y2="342.1" stroke="#000" stroke-width="0.7" />
<line x1="22" y1="349.2" x2="24.2" y2="349.2" stroke="#000" stroke-width="0.9" />
<text x="21.3" y="349.4" font-size="5" text-anchor="middle" font-weight="bold" transform="rotate(-90 21.3 349.4)" fill="#000"  stroke="#000" stroke-width="0.12">4</text>
<line x1="23.1" y1="356.3" x2="24.2" y2="356.3" stroke="#000" stroke-width="0.7" />
<line x1="22" y1="363.4" x2="24.2" y2="363.4" stroke="#000" stroke-width="0.9" />
<text x="21.3" y="363.6" font-size="5" text-anchor="middle" font-weight="bold" transform="rotate(-90 21.3 363.6)" fill="#000"  stroke="#000" stroke-width="0.12">2</text>
<line x1="23.1" y1="370.5" x2="24.2" y2="370.5" stroke="#000" stroke-width="0.7" />
<line x1="22" y1="377.6" x2="24.2" y2="377.6" stroke="#000" stroke-width="0.9" />
<text x="21.3" y="377.8" font-size="5" text-anchor="middle" font-weight="bold" transform="rotate(-90 21.3 377.8)" fill="#000"  stroke="#000" stroke-width="0.12">0</text>
<line x1="23.7" y1="377.5" x2="160" y2="377.5" stroke="#000" stroke-width="1" />
<text x="14.5" y="374.2" font-size="7" text-anchor="start" transform="rotate(-90 14.5 374.2)" fill="#000"  stroke="#000" stroke-width="0.2" textLength="92" lengthAdjust="spacingAndGlyphs">Donor derived T cells (x 10<tspan dy="-0.38em" font-size="60%">6</tspan><tspan dy="0.228em">&#8203;</tspan>)</text>
<rect x="49.3" y="288.5" width="10.9" height="4.9" fill="#fff" stroke="#000" stroke-width="1.15" />
<rect x="49.3" y="297.6" width="10.9" height="4.6" fill="#000" stroke="#000" stroke-width="1.15" />
<text x="61.6" y="292.7" font-size="6.9" text-anchor="start" fill="#000"  stroke="#000" stroke-width="0.2">Vehicle</text>
<text x="61.6" y="301.7" font-size="6.9" text-anchor="start" fill="#000"  stroke="#000" stroke-width="0.2">Sunitinib</text>
<line x1="64" y1="377" x2="78" y2="377" stroke="#000" stroke-width="1" />
<line x1="85.25" y1="360" x2="85.25" y2="364.8" stroke="#000" stroke-width="1.1" />
<line x1="81.33" y1="360" x2="89.17" y2="360" stroke="#000" stroke-width="1.1" />
<rect x="78" y="364.8" width="14.5" height="12.7" fill="#000" stroke="#000" stroke-width="1.1" />
<line x1="110.35" y1="330" x2="110.35" y2="336.3" stroke="#000" stroke-width="1.1" />
<line x1="106.38" y1="330" x2="114.32" y2="330" stroke="#000" stroke-width="1.1" />
<rect x="103" y="336.3" width="14.7" height="41.2" fill="#fff" stroke="#000" stroke-width="1.1" />
<line x1="125.2" y1="305" x2="125.2" y2="311" stroke="#000" stroke-width="1.1" />
<line x1="121.15" y1="305" x2="129.25" y2="305" stroke="#000" stroke-width="1.1" />
<rect x="117.7" y="311" width="15" height="66.5" fill="#000" stroke="#000" stroke-width="1.1" />
<line x1="150.1" y1="286.6" x2="150.1" y2="300.5" stroke="#333" stroke-width="0.9" />
<line x1="146.2" y1="286.6" x2="154" y2="286.6" stroke="#333" stroke-width="0.9" />
<rect x="142.7" y="300.5" width="14.8" height="77" fill="#959595" stroke="#000" stroke-width="1.1" />
<text x="68.7" y="377.6" font-size="7.5" text-anchor="middle" font-weight="bold" fill="#000"  stroke="#000" stroke-width="0.12">*</text>
<text x="109.5" y="330.4" font-size="8.5" text-anchor="middle" font-weight="bold" fill="#000"  stroke="#000" stroke-width="0.12">**</text>
<text x="17.7" y="388.1" font-size="7" text-anchor="start" fill="#000"  stroke="#000" stroke-width="0.2">Day</text>
<text x="45.4" y="388.1" font-size="7" text-anchor="middle" fill="#000"  stroke="#000" stroke-width="0.2">14</text>
<text x="78.7" y="388.1" font-size="7" text-anchor="middle" fill="#000"  stroke="#000" stroke-width="0.2">28</text>
<text x="118.3" y="388.1" font-size="7" text-anchor="middle" fill="#000"  stroke="#000" stroke-width="0.2">84</text>
<text x="150.9" y="388.1" font-size="7" text-anchor="middle" fill="#000"  stroke="#000" stroke-width="0.2">XRT</text>
<line x1="210.6" y1="286.8" x2="210.6" y2="303.3" stroke="#000" stroke-width="1.25" />
<line x1="207.6" y1="287.4" x2="210.6" y2="287.4" stroke="#000" stroke-width="1.1" />
<text x="207.4" y="289.8" font-size="6.7" text-anchor="end" font-weight="bold" fill="#000"  stroke="#000" stroke-width="0.12">40</text>
<line x1="207.6" y1="295.2" x2="210.6" y2="295.2" stroke="#000" stroke-width="1.1" />
<text x="207.4" y="297.6" font-size="6.7" text-anchor="end" font-weight="bold" fill="#000"  stroke="#000" stroke-width="0.12">30</text>
<line x1="207.6" y1="302.9" x2="210.6" y2="302.9" stroke="#000" stroke-width="1.1" />
<text x="207.4" y="305.3" font-size="6.7" text-anchor="end" font-weight="bold" fill="#000"  stroke="#000" stroke-width="0.12">20</text>
<line x1="209" y1="302.9" x2="212.4" y2="302.9" stroke="#000" stroke-width="1.1" />
<line x1="210.6" y1="309.8" x2="210.6" y2="377.6" stroke="#000" stroke-width="1.25" />
<line x1="209" y1="309.8" x2="212.2" y2="309.8" stroke="#000" stroke-width="1.1" />
<line x1="207.6" y1="321" x2="210.6" y2="321" stroke="#000" stroke-width="1.1" />
<text x="207.4" y="323.4" font-size="6.7" text-anchor="end" font-weight="bold" fill="#000"  stroke="#000" stroke-width="0.12">10</text>
<line x1="207.6" y1="349.25" x2="210.6" y2="349.25" stroke="#000" stroke-width="1.1" />
<text x="207.4" y="351.65" font-size="6.7" text-anchor="end" font-weight="bold" fill="#000"  stroke="#000" stroke-width="0.12">5</text>
<line x1="207.6" y1="377.6" x2="210.6" y2="377.6" stroke="#000" stroke-width="1.1" />
<text x="207.4" y="380" font-size="6.7" text-anchor="end" font-weight="bold" fill="#000"  stroke="#000" stroke-width="0.12">0</text>
<line x1="210" y1="377.6" x2="345" y2="377.6" stroke="#000" stroke-width="1.4" />
<text x="193.3" y="371" font-size="7.1" text-anchor="start" transform="rotate(-90 193.3 371)" fill="#000"  stroke="#000" stroke-width="0.2" textLength="93.5" lengthAdjust="spacingAndGlyphs">Donor derived B cells (x 10<tspan dy="-0.38em" font-size="60%">6</tspan><tspan dy="0.228em">&#8203;</tspan>)</text>
<rect x="213.8" y="376.8" width="15" height="0.8" fill="#000" stroke="#000" stroke-width="0.8" />
<rect x="228.8" y="375.8" width="15.7" height="1.8" fill="#000" stroke="#000" stroke-width="1" />
<rect x="251.5" y="373.8" width="15" height="3.8" fill="#fff" stroke="#000" stroke-width="1.25" />
<line x1="255.8" y1="373.8" x2="262.6" y2="373.8" stroke="#000" stroke-width="2" />
<line x1="274.6" y1="361.2" x2="274.6" y2="364.6" stroke="#000" stroke-width="1.25" />
<line x1="270.4" y1="361.2" x2="278.8" y2="361.2" stroke="#000" stroke-width="1.25" />
<rect x="266.5" y="364.6" width="16.2" height="13" fill="#000" stroke="#000" stroke-width="1.25" />
<rect x="289.6" y="351.2" width="14.6" height="26.4" fill="#fff" stroke="#000" stroke-width="1.25" />
<line x1="297.5" y1="339.2" x2="297.5" y2="362.3" stroke="#000" stroke-width="1.25" />
<line x1="293.4" y1="339.2" x2="301.6" y2="339.2" stroke="#000" stroke-width="1.25" />
<line x1="293.4" y1="362.3" x2="301.6" y2="362.3" stroke="#000" stroke-width="1.25" />
<line x1="312.3" y1="312.6" x2="312.3" y2="315" stroke="#000" stroke-width="1.25" />
<line x1="308.1" y1="312.6" x2="316.5" y2="312.6" stroke="#000" stroke-width="1.25" />
<rect x="304.2" y="315" width="16.2" height="62.6" fill="#000" stroke="#000" stroke-width="1.25" />
<rect x="326.9" y="309.3" width="16.1" height="68.3" fill="#757575" stroke="none" stroke-width="0" />
<rect x="326.9" y="294.3" width="16.1" height="9.4" fill="#757575" stroke="none" stroke-width="0" />
<path d="M326.9 303.7 V294.3 H343 V303.7 M326.9 309.3 V377.6 M343 309.3 V377.6" fill="none" stroke="#000" stroke-width="1.4"/>
<line x1="335" y1="290.2" x2="335" y2="300.3" stroke="#000" stroke-width="1.25" />
<line x1="330.8" y1="290.2" x2="339.2" y2="290.2" stroke="#000" stroke-width="1.25" />
<line x1="330.8" y1="300.3" x2="339.2" y2="300.3" stroke="#000" stroke-width="1.25" />
<text x="259.6" y="364.8" font-size="6" text-anchor="middle" font-weight="bold" fill="#000"  stroke="#000" stroke-width="0.12">*</text>
<text x="294.5" y="334.6" font-size="6" text-anchor="middle" font-weight="bold" fill="#000"  stroke="#000" stroke-width="0.12">*</text>
<text x="201.8" y="388.1" font-size="7" text-anchor="start" fill="#000"  stroke="#000" stroke-width="0.2">Day</text>
<text x="228.6" y="388.1" font-size="7" text-anchor="middle" fill="#000"  stroke="#000" stroke-width="0.2">14</text>
<text x="266.4" y="388.1" font-size="7" text-anchor="middle" fill="#000"  stroke="#000" stroke-width="0.2">28</text>
<text x="303.6" y="388.1" font-size="7" text-anchor="middle" fill="#000"  stroke="#000" stroke-width="0.2">84</text>
<text x="334.5" y="388.1" font-size="7" text-anchor="middle" fill="#000"  stroke="#000" stroke-width="0.2">XRT</text>
</g>
</svg>
</body></html>
